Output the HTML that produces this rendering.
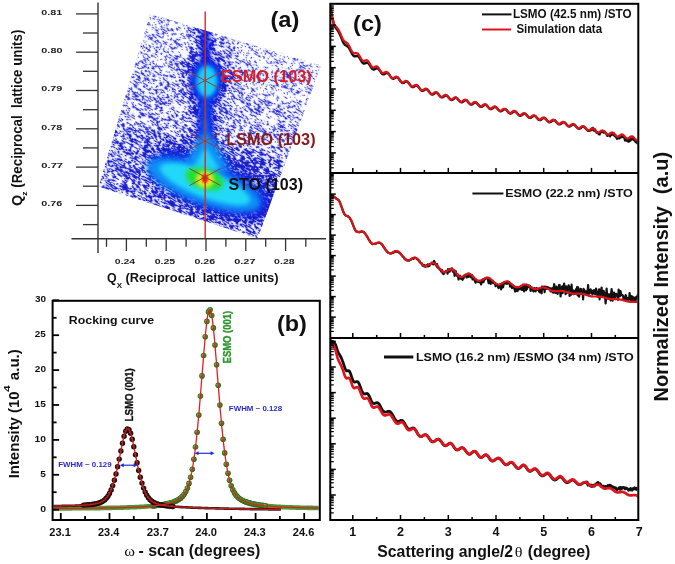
<!DOCTYPE html><html><head><meta charset="utf-8"><style>html,body{margin:0;padding:0;background:#fff;width:675px;height:564px;overflow:hidden}svg{display:block}</style></head><body>
<svg width="675" height="564" viewBox="0 0 675 564" style="will-change:transform">
<defs>
<radialGradient id="gball" cx="0.5" cy="0.5" r="0.5" fx="0.35" fy="0.3"><stop offset="0" stop-color="#a0b060"/><stop offset="0.45" stop-color="#4a9a30"/><stop offset="1" stop-color="#1e6414"/></radialGradient>
<radialGradient id="kball" cx="0.5" cy="0.5" r="0.5" fx="0.35" fy="0.3"><stop offset="0" stop-color="#b04040"/><stop offset="0.45" stop-color="#3a1212"/><stop offset="1" stop-color="#0c0c0c"/></radialGradient>
<clipPath id="clipb"><rect x="53.6" y="302" width="265" height="216.6"/></clipPath>

<clipPath id="clipq"><polygon points="150,13.8 321,65.5 257.6,238.5 98.5,186.5"/></clipPath>
<filter id="tex" filterUnits="userSpaceOnUse" x="-140" y="-140" width="280" height="280" color-interpolation-filters="sRGB">
  <feGaussianBlur in="SourceGraphic" stdDeviation="5" result="dens"/>
  <feTurbulence type="fractalNoise" baseFrequency="0.07 0.45" numOctaves="2" seed="7" result="noise"/>
  <feColorMatrix in="noise" type="matrix" values="1 0 0 0 0  1 0 0 0 0  1 0 0 0 0  0 0 0 0 1" result="n1"/>
  <feComponentTransfer in="n1" result="inv"><feFuncR type="table" tableValues="1 0 1 0 1 0 1 0 1 0 1"/><feFuncG type="table" tableValues="1 0 1 0 1 0 1 0 1 0 1"/><feFuncB type="table" tableValues="1 0 1 0 1 0 1 0 1 0 1"/></feComponentTransfer>
  <feComposite in="dens" in2="inv" operator="arithmetic" k1="0" k2="1" k3="1" k4="-0.5" result="diff"/>
  <feComponentTransfer in="diff" result="thr"><feFuncR type="linear" slope="4" intercept="-1.5"/></feComponentTransfer>
  <feColorMatrix in="thr" type="matrix" values="1 0 0 0 0  0 0 0 0 0  0 0 0 0 0  0 0 0 0 1" result="thr2"/>
  <feColorMatrix in="dens" type="matrix" values="1 0 0 0 0  0 0 0 0 0  0 0 0 0 0  0 0 0 0 1" result="dens2"/>
  <feComposite in="thr2" in2="dens2" operator="arithmetic" k1="0.4" k2="0.8" k3="0" k4="0" result="am"/>
  <feColorMatrix in="am" type="matrix" values="0 0 0 0 0.10  0 0 0 0 0.12  0 0 0 0 0.80  1 0 0 0 0" result="strokes"/>
  <feGaussianBlur in="strokes" stdDeviation="1.0" result="hb"/>
  <feColorMatrix in="hb" type="matrix" values="0 0 0 0 0.45  0 0 0 0 0.48  0 0 0 0 0.92  0 0 0 0.6 0" result="halo"/>
  <feMerge><feMergeNode in="halo"/><feMergeNode in="strokes"/></feMerge>
</filter>
<filter id="bl2" x="-50%" y="-50%" width="200%" height="200%"><feGaussianBlur stdDeviation="2"/></filter>
<filter id="bl3" x="-50%" y="-50%" width="200%" height="200%"><feGaussianBlur stdDeviation="3"/></filter>
<filter id="bl4" x="-50%" y="-50%" width="200%" height="200%"><feGaussianBlur stdDeviation="4"/></filter>
<filter id="bl1" x="-50%" y="-50%" width="200%" height="200%"><feGaussianBlur stdDeviation="1.2"/></filter>
</defs>
<rect width="675" height="564" fill="#fff"/>
<g clip-path="url(#clipq)"><g transform="translate(207.0,125.75) rotate(32.0)"><g filter="url(#tex)"><rect x="-140" y="-140" width="280" height="280" fill="rgb(76,0,0)"/><g transform="rotate(-32.0) translate(-207.0,-125.75)"><polygon points="140,5 200,20 190,60 130,70" fill="rgb(56,0,0)"/><polygon points="240,35 330,60 312,110 240,95" fill="rgb(51,0,0)"/><polygon points="95,128 160,132 230,146 310,165 290,245 95,205" fill="rgb(128,0,0)"/><polygon points="90,140 128,150 130,205 90,200" fill="rgb(107,0,0)"/><ellipse cx="216" cy="182" rx="72" ry="32" transform="rotate(20 216 182)" fill="rgb(204,0,0)"/><polygon points="196,20 214,20 218,100 222,180 188,180 192,100" fill="rgb(153,0,0)"/><ellipse cx="206" cy="80" rx="24" ry="30" fill="rgb(166,0,0)"/></g></g></g><g filter="url(#bl4)"><ellipse cx="211" cy="186" rx="64" ry="22" transform="rotate(22 211 186)" fill="#0818e0" opacity="0.85"/><ellipse cx="205" cy="183" rx="58" ry="19" transform="rotate(18 205 183)" fill="#0850f0" opacity="0.9"/></g><g filter="url(#bl2)"><polygon points="201.5,28 209.5,28 212.5,100 214,170 197,170 198.5,100" fill="#0a1ee0" opacity="0.95"/><ellipse cx="206.5" cy="81" rx="16.5" ry="22" fill="#0a1ee0"/></g><g filter="url(#bl3)"><ellipse cx="204" cy="185" rx="60" ry="18" transform="rotate(20 204 185)" fill="#0890f8"/><ellipse cx="206.5" cy="81" rx="11" ry="16" fill="#0890f8"/><rect x="203" y="95" width="5" height="75" fill="#0870f4" opacity="0.8"/><polygon points="200,135 211,135 230,170 182,170" fill="#0890f8"/></g><g filter="url(#bl2)"><ellipse cx="207" cy="81.5" rx="9.5" ry="15" fill="#18d0f8"/><rect x="204" y="120" width="3" height="45" fill="#14c0f8" opacity="0.5"/><polygon points="203,150 208,150 220,170 192,170" fill="#20d0f8"/><ellipse cx="205" cy="184" rx="48" ry="13" transform="rotate(21 205 184)" fill="#20d8f8"/></g><g filter="url(#bl2)"><ellipse cx="204.5" cy="179" rx="19.5" ry="10.5" transform="rotate(17 204.5 179)" fill="#22e030"/><ellipse cx="205" cy="179.5" rx="7.5" ry="7" fill="#f4f414"/></g><g filter="url(#bl1)"><ellipse cx="205" cy="178.5" rx="3.2" ry="4.6" fill="#f01818"/></g></g><line x1="205.2" y1="11.5" x2="205.2" y2="238" stroke="#c83030" stroke-width="1.4"/><line x1="189.5" y1="72.0" x2="220.5" y2="89.0" stroke="#a03838" stroke-width="1"/><line x1="189.5" y1="89.0" x2="220.5" y2="72.0" stroke="#a03838" stroke-width="1"/><line x1="189.5" y1="132.5" x2="220.5" y2="149.5" stroke="#a03838" stroke-width="1"/><line x1="189.5" y1="149.5" x2="220.5" y2="132.5" stroke="#a03838" stroke-width="1"/><line x1="189.5" y1="168.5" x2="220.5" y2="185.5" stroke="#a03838" stroke-width="1"/><line x1="189.5" y1="185.5" x2="220.5" y2="168.5" stroke="#a03838" stroke-width="1"/><text x="220.94" y="82.00" font-family="Liberation Sans, sans-serif" font-size="16.4" font-weight="bold" fill="#dc1c24" textLength="90.84" lengthAdjust="spacingAndGlyphs" >ESMO (103)</text><text x="226.35" y="144.60" font-family="Liberation Sans, sans-serif" font-size="16.4" font-weight="bold" fill="#8a1a1a" textLength="89.20" lengthAdjust="spacingAndGlyphs" >LSMO (103)</text><text x="228.42" y="189.70" font-family="Liberation Sans, sans-serif" font-size="16.4" font-weight="bold" fill="#111" textLength="74.58" lengthAdjust="spacingAndGlyphs" >STO (103)</text><line x1="98" y1="2.5" x2="98" y2="253" stroke="#333" stroke-width="1.4"/><line x1="71.5" y1="238.7" x2="326" y2="238.7" stroke="#333" stroke-width="1.4"/><line x1="76" y1="13.9" x2="98" y2="13.9" stroke="#333" stroke-width="1.3"/><line x1="83" y1="33.0" x2="98" y2="33.0" stroke="#333" stroke-width="1.3"/><text x="41.37" y="14.70" font-family="Liberation Sans, sans-serif" font-size="6.8" font-weight="bold" fill="#222" textLength="20.91" lengthAdjust="spacingAndGlyphs" >0.81</text><line x1="76" y1="52.2" x2="98" y2="52.2" stroke="#333" stroke-width="1.3"/><line x1="83" y1="71.3" x2="98" y2="71.3" stroke="#333" stroke-width="1.3"/><text x="41.37" y="53.00" font-family="Liberation Sans, sans-serif" font-size="6.8" font-weight="bold" fill="#222" textLength="21.08" lengthAdjust="spacingAndGlyphs" >0.80</text><line x1="76" y1="90.5" x2="98" y2="90.5" stroke="#333" stroke-width="1.3"/><line x1="83" y1="109.7" x2="98" y2="109.7" stroke="#333" stroke-width="1.3"/><text x="41.37" y="91.30" font-family="Liberation Sans, sans-serif" font-size="6.8" font-weight="bold" fill="#222" textLength="21.02" lengthAdjust="spacingAndGlyphs" >0.79</text><line x1="76" y1="128.8" x2="98" y2="128.8" stroke="#333" stroke-width="1.3"/><line x1="83" y1="147.9" x2="98" y2="147.9" stroke="#333" stroke-width="1.3"/><text x="41.37" y="129.60" font-family="Liberation Sans, sans-serif" font-size="6.8" font-weight="bold" fill="#222" textLength="20.97" lengthAdjust="spacingAndGlyphs" >0.78</text><line x1="76" y1="167.1" x2="98" y2="167.1" stroke="#333" stroke-width="1.3"/><line x1="83" y1="186.2" x2="98" y2="186.2" stroke="#333" stroke-width="1.3"/><text x="41.35" y="167.90" font-family="Liberation Sans, sans-serif" font-size="6.8" font-weight="bold" fill="#222" textLength="21.72" lengthAdjust="spacingAndGlyphs" >0.77</text><line x1="76" y1="205.4" x2="98" y2="205.4" stroke="#333" stroke-width="1.3"/><line x1="83" y1="224.6" x2="98" y2="224.6" stroke="#333" stroke-width="1.3"/><text x="41.37" y="206.20" font-family="Liberation Sans, sans-serif" font-size="6.8" font-weight="bold" fill="#222" textLength="21.02" lengthAdjust="spacingAndGlyphs" >0.76</text><line x1="126.4" y1="238.7" x2="126.4" y2="251" stroke="#333" stroke-width="1.3"/><line x1="106.5" y1="238.7" x2="106.5" y2="246.8" stroke="#333" stroke-width="1.3"/><text x="114.88" y="264.30" font-family="Liberation Sans, sans-serif" font-size="7.0" font-weight="bold" fill="#222" textLength="20.28" lengthAdjust="spacingAndGlyphs" >0.24</text><line x1="166.2" y1="238.7" x2="166.2" y2="251" stroke="#333" stroke-width="1.3"/><line x1="146.3" y1="238.7" x2="146.3" y2="246.8" stroke="#333" stroke-width="1.3"/><text x="154.68" y="264.30" font-family="Liberation Sans, sans-serif" font-size="7.0" font-weight="bold" fill="#222" textLength="20.50" lengthAdjust="spacingAndGlyphs" >0.25</text><line x1="206.0" y1="238.7" x2="206.0" y2="251" stroke="#333" stroke-width="1.3"/><line x1="186.1" y1="238.7" x2="186.1" y2="246.8" stroke="#333" stroke-width="1.3"/><text x="194.48" y="264.30" font-family="Liberation Sans, sans-serif" font-size="7.0" font-weight="bold" fill="#222" textLength="20.61" lengthAdjust="spacingAndGlyphs" >0.26</text><line x1="245.8" y1="238.7" x2="245.8" y2="251" stroke="#333" stroke-width="1.3"/><line x1="225.9" y1="238.7" x2="225.9" y2="246.8" stroke="#333" stroke-width="1.3"/><text x="234.26" y="264.30" font-family="Liberation Sans, sans-serif" font-size="7.0" font-weight="bold" fill="#222" textLength="21.29" lengthAdjust="spacingAndGlyphs" >0.27</text><line x1="285.6" y1="238.7" x2="285.6" y2="251" stroke="#333" stroke-width="1.3"/><line x1="265.7" y1="238.7" x2="265.7" y2="246.8" stroke="#333" stroke-width="1.3"/><text x="274.08" y="264.30" font-family="Liberation Sans, sans-serif" font-size="7.0" font-weight="bold" fill="#222" textLength="20.55" lengthAdjust="spacingAndGlyphs" >0.28</text><line x1="305.8" y1="238.7" x2="305.8" y2="246.8" stroke="#333" stroke-width="1.3"/><text x="106.91" y="282.00" font-family="Liberation Sans, sans-serif" font-size="12.5" font-weight="bold" fill="#111" textLength="9.62" lengthAdjust="spacingAndGlyphs" >Q</text><text x="116.82" y="287.60" font-family="Liberation Sans, sans-serif" font-size="7.6" font-weight="bold" fill="#111" textLength="5.27" lengthAdjust="spacingAndGlyphs" >X</text><text x="125.46" y="282.00" font-family="Liberation Sans, sans-serif" font-size="12.5" font-weight="bold" fill="#111" textLength="153.05" lengthAdjust="spacingAndGlyphs" >(Reciprocal&#160; lattice units)</text><text transform="translate(22.00,205.88) rotate(-90)" x="0" y="0" font-family="Liberation Sans, sans-serif" font-size="13.8" font-weight="bold" fill="#111" textLength="11.19" lengthAdjust="spacingAndGlyphs" >Q</text><text transform="translate(27.10,195.85) rotate(-90)" x="0" y="0" font-family="Liberation Sans, sans-serif" font-size="7.2" font-weight="bold" fill="#111" textLength="4.35" lengthAdjust="spacingAndGlyphs" >z</text><text transform="translate(22.00,187.66) rotate(-90)" x="0" y="0" font-family="Liberation Sans, sans-serif" font-size="13.8" font-weight="bold" fill="#111" textLength="157.99" lengthAdjust="spacingAndGlyphs" >(Reciprocal&#160; lattice units)</text><text x="270.42" y="26.60" font-family="Liberation Sans, sans-serif" font-size="22" font-weight="bold" fill="#111" textLength="28.90" lengthAdjust="spacingAndGlyphs" >(a)</text><g clip-path="url(#clipb)"><polyline points="52.7,508.5 53.3,508.5 54.0,508.5 54.7,508.5 55.3,508.5 56.0,508.4 56.6,508.4 57.3,508.4 58.0,508.4 58.6,508.4 59.3,508.4 60.0,508.4 60.6,508.4 61.3,508.4 61.9,508.4 62.6,508.4 63.3,508.4 63.9,508.4 64.6,508.4 65.2,508.4 65.9,508.4 66.6,508.4 67.2,508.4 67.9,508.4 68.5,508.4 69.2,508.4 69.9,508.4 70.5,508.4 71.2,508.4 71.8,508.3 72.5,508.3 73.2,508.3 73.8,508.3 74.5,508.3 75.1,508.3 75.8,508.3 76.5,508.3 77.1,508.3 77.8,508.3 78.4,508.3 79.1,508.3 79.8,508.3 80.4,508.3 81.1,508.3 81.8,508.3 82.4,508.3 83.1,508.3 83.7,508.2 84.4,508.2 85.1,508.2 85.7,508.2 86.4,508.2 87.0,508.2 87.7,508.2 88.4,508.2 89.0,508.2 89.7,508.2 90.3,508.2 91.0,508.2 91.7,508.2 92.3,508.2 93.0,508.1 93.6,508.1 94.3,508.1 95.0,508.1 95.6,508.1 96.3,508.1 96.9,508.1 97.6,508.1 98.3,508.1 98.9,508.1 99.6,508.1 100.2,508.1 100.9,508.0 101.6,508.0 102.2,508.0 102.9,508.0 103.6,508.0 104.2,508.0 104.9,508.0 105.5,508.0 106.2,508.0 106.9,507.9 107.5,507.9 108.2,507.9 108.8,507.9 109.5,507.9 110.2,507.9 110.8,507.9 111.5,507.9 112.1,507.8 112.8,507.8 113.5,507.8 114.1,507.8 114.8,507.8 115.4,507.8 116.1,507.8 116.8,507.7 117.4,507.7 118.1,507.7 118.7,507.7 119.4,507.7 120.1,507.7 120.7,507.6 121.4,507.6 122.0,507.6 122.7,507.6 123.4,507.6 124.0,507.5 124.7,507.5 125.4,507.5 126.0,507.5 126.7,507.5 127.3,507.4 128.0,507.4 128.7,507.4 129.3,507.4 130.0,507.3 130.6,507.3 131.3,507.3 132.0,507.3 132.6,507.2 133.3,507.2 133.9,507.2 134.6,507.2 135.3,507.1 135.9,507.1 136.6,507.1 137.2,507.0 137.9,507.0 138.6,507.0 139.2,506.9 139.9,506.9 140.5,506.9 141.2,506.8 141.9,506.8 142.5,506.7 143.2,506.7 143.9,506.7 144.5,506.6 145.2,506.6 145.8,506.5 146.5,506.5 147.2,506.4 147.8,506.4 148.5,506.3 149.1,506.3 149.8,506.2 150.5,506.2 151.1,506.1 151.8,506.0 152.4,506.0 153.1,505.9 153.8,505.8 154.4,505.8 155.1,505.7 155.7,505.6 156.4,505.5 157.1,505.5 157.7,505.4 158.4,505.3 159.0,505.2 159.7,505.1 160.4,505.0 161.0,504.9 161.7,504.8 162.3,504.7 163.0,504.6 163.7,504.5 164.3,504.3 165.0,504.2 165.7,504.1 166.3,503.9 167.0,503.8 167.6,503.6 168.3,503.5 169.0,503.3 169.6,503.1 170.3,503.0 170.9,502.8 171.6,502.6 172.3,502.4 172.9,502.1 173.6,501.9 174.2,501.7 174.9,501.4 175.6,501.1 176.2,500.8 176.9,500.5 177.5,500.1 178.2,499.8 178.9,499.4 179.5,498.9 180.2,498.4 180.8,497.9 181.5,497.3 182.2,496.7 182.8,496.0 183.5,495.2 184.1,494.3" fill="none" stroke="#4a9a38" stroke-width="4.6" stroke-linejoin="round" stroke-linecap="round" /><polyline points="236.1,495.3 236.5,495.8 236.9,496.3 237.4,496.7 237.8,497.1 238.2,497.5 238.6,497.9 239.1,498.2 239.5,498.6 239.9,498.9 240.3,499.2 240.7,499.4 241.2,499.7 241.6,499.9 242.0,500.2 242.4,500.4 242.9,500.6 243.3,500.8 243.7,501.0 244.1,501.2 244.6,501.4 245.0,501.6 245.4,501.7 245.8,501.9 246.3,502.0 246.7,502.2 247.1,502.3 247.5,502.5 248.0,502.6 248.4,502.7 248.8,502.8 249.2,503.0 249.7,503.1 250.1,503.2 250.5,503.3 250.9,503.4 251.4,503.5 251.8,503.6 252.2,503.7 252.6,503.8 253.0,503.9 253.5,504.0 253.9,504.1 254.3,504.2 254.7,504.3 255.2,504.3 255.6,504.4 256.0,504.5 256.4,504.6 256.9,504.6 257.3,504.7 257.7,504.8 258.1,504.9 258.6,504.9 259.0,505.0 259.4,505.0 259.8,505.1 260.3,505.2 260.7,505.2 261.1,505.3 261.5,505.3 262.0,505.4 262.4,505.5 262.8,505.5 263.2,505.6 263.7,505.6 264.1,505.7 264.5,505.7 264.9,505.7 265.3,505.8 265.8,505.8 266.2,505.9 266.6,505.9 267.0,506.0 267.5,506.0 267.9,506.0 268.3,506.1 268.7,506.1 269.2,506.2 269.6,506.2 270.0,506.2 270.4,506.3 270.9,506.3 271.3,506.3 271.7,506.4 272.1,506.4 272.6,506.4 273.0,506.5 273.4,506.5 273.8,506.5 274.3,506.6 274.7,506.6 275.1,506.6 275.5,506.6 275.9,506.7 276.4,506.7 276.8,506.7 277.2,506.8 277.6,506.8 278.1,506.8 278.5,506.8 278.9,506.9 279.3,506.9 279.8,506.9 280.2,506.9 280.6,506.9 281.0,507.0 281.5,507.0 281.9,507.0 282.3,507.0 282.7,507.1 283.2,507.1 283.6,507.1 284.0,507.1 284.4,507.1 284.9,507.2 285.3,507.2 285.7,507.2 286.1,507.2 286.6,507.2 287.0,507.2 287.4,507.3 287.8,507.3 288.2,507.3 288.7,507.3 289.1,507.3 289.5,507.3 289.9,507.4 290.4,507.4 290.8,507.4 291.2,507.4 291.6,507.4 292.1,507.4 292.5,507.4 292.9,507.5 293.3,507.5 293.8,507.5 294.2,507.5 294.6,507.5 295.0,507.5 295.5,507.5 295.9,507.6 296.3,507.6 296.7,507.6 297.2,507.6 297.6,507.6 298.0,507.6 298.4,507.6 298.9,507.6 299.3,507.7 299.7,507.7 300.1,507.7 300.5,507.7 301.0,507.7 301.4,507.7 301.8,507.7 302.2,507.7 302.7,507.7 303.1,507.7 303.5,507.8 303.9,507.8 304.4,507.8 304.8,507.8 305.2,507.8 305.6,507.8 306.1,507.8 306.5,507.8 306.9,507.8 307.3,507.8 307.8,507.9 308.2,507.9 308.6,507.9 309.0,507.9 309.5,507.9 309.9,507.9 310.3,507.9 310.7,507.9 311.1,507.9 311.6,507.9 312.0,507.9 312.4,507.9 312.8,507.9 313.3,508.0 313.7,508.0 314.1,508.0 314.5,508.0 315.0,508.0 315.4,508.0 315.8,508.0 316.2,508.0 316.7,508.0 317.1,508.0 317.5,508.0 317.9,508.0 318.4,508.0 318.8,508.0 319.2,508.0 319.6,508.1 320.1,508.1 320.5,508.1" fill="none" stroke="#4a9a38" stroke-width="4.6" stroke-linejoin="round" stroke-linecap="round" /><circle cx="153.3" cy="505.9" r="2.8" fill="url(#gball)"/><circle cx="154.9" cy="505.7" r="2.8" fill="url(#gball)"/><circle cx="156.6" cy="505.5" r="2.8" fill="url(#gball)"/><circle cx="158.2" cy="505.3" r="2.8" fill="url(#gball)"/><circle cx="159.8" cy="505.1" r="2.8" fill="url(#gball)"/><circle cx="161.4" cy="504.8" r="2.8" fill="url(#gball)"/><circle cx="163.0" cy="504.6" r="2.8" fill="url(#gball)"/><circle cx="164.7" cy="504.3" r="2.8" fill="url(#gball)"/><circle cx="166.3" cy="503.9" r="2.8" fill="url(#gball)"/><circle cx="167.9" cy="503.6" r="2.8" fill="url(#gball)"/><circle cx="169.5" cy="503.2" r="2.8" fill="url(#gball)"/><circle cx="171.2" cy="502.7" r="2.8" fill="url(#gball)"/><circle cx="172.8" cy="502.2" r="2.8" fill="url(#gball)"/><circle cx="174.4" cy="501.6" r="2.8" fill="url(#gball)"/><circle cx="176.0" cy="500.9" r="2.8" fill="url(#gball)"/><circle cx="177.7" cy="500.1" r="2.8" fill="url(#gball)"/><circle cx="179.3" cy="499.1" r="2.8" fill="url(#gball)"/><circle cx="180.9" cy="497.9" r="2.8" fill="url(#gball)"/><circle cx="182.5" cy="496.3" r="2.8" fill="url(#gball)"/><circle cx="184.1" cy="494.3" r="2.8" fill="url(#gball)"/><circle cx="185.8" cy="491.6" r="2.8" fill="url(#gball)"/><circle cx="187.4" cy="488.1" r="2.8" fill="url(#gball)"/><circle cx="189.0" cy="483.4" r="2.8" fill="url(#gball)"/><circle cx="190.6" cy="477.3" r="2.8" fill="url(#gball)"/><circle cx="192.3" cy="469.3" r="2.8" fill="url(#gball)"/><circle cx="193.9" cy="459.3" r="2.8" fill="url(#gball)"/><circle cx="195.5" cy="447.0" r="2.8" fill="url(#gball)"/><circle cx="197.1" cy="432.2" r="2.8" fill="url(#gball)"/><circle cx="198.8" cy="415.1" r="2.8" fill="url(#gball)"/><circle cx="200.4" cy="396.1" r="2.8" fill="url(#gball)"/><circle cx="202.0" cy="375.9" r="2.8" fill="url(#gball)"/><circle cx="203.6" cy="355.5" r="2.8" fill="url(#gball)"/><circle cx="205.2" cy="336.7" r="2.8" fill="url(#gball)"/><circle cx="206.9" cy="321.4" r="2.8" fill="url(#gball)"/><circle cx="208.5" cy="311.9" r="2.8" fill="url(#gball)"/><circle cx="210.1" cy="309.8" r="2.8" fill="url(#gball)"/><circle cx="211.7" cy="315.5" r="2.8" fill="url(#gball)"/><circle cx="213.4" cy="327.9" r="2.8" fill="url(#gball)"/><circle cx="215.0" cy="345.1" r="2.8" fill="url(#gball)"/><circle cx="216.6" cy="364.8" r="2.8" fill="url(#gball)"/><circle cx="218.2" cy="385.3" r="2.8" fill="url(#gball)"/><circle cx="219.9" cy="405.1" r="2.8" fill="url(#gball)"/><circle cx="221.5" cy="423.2" r="2.8" fill="url(#gball)"/><circle cx="223.1" cy="439.3" r="2.8" fill="url(#gball)"/><circle cx="224.7" cy="452.9" r="2.8" fill="url(#gball)"/><circle cx="226.3" cy="464.2" r="2.8" fill="url(#gball)"/><circle cx="228.0" cy="473.2" r="2.8" fill="url(#gball)"/><circle cx="229.6" cy="480.3" r="2.8" fill="url(#gball)"/><circle cx="231.2" cy="485.7" r="2.8" fill="url(#gball)"/><circle cx="232.8" cy="489.8" r="2.8" fill="url(#gball)"/><circle cx="234.5" cy="492.9" r="2.8" fill="url(#gball)"/><circle cx="236.1" cy="495.3" r="2.8" fill="url(#gball)"/><circle cx="237.7" cy="497.1" r="2.8" fill="url(#gball)"/><circle cx="239.3" cy="498.5" r="2.8" fill="url(#gball)"/><circle cx="241.0" cy="499.6" r="2.8" fill="url(#gball)"/><circle cx="242.6" cy="500.5" r="2.8" fill="url(#gball)"/><circle cx="244.2" cy="501.2" r="2.8" fill="url(#gball)"/><circle cx="245.8" cy="501.9" r="2.8" fill="url(#gball)"/><circle cx="247.4" cy="502.4" r="2.8" fill="url(#gball)"/><circle cx="249.1" cy="502.9" r="2.8" fill="url(#gball)"/><circle cx="250.7" cy="503.4" r="2.8" fill="url(#gball)"/><circle cx="252.3" cy="503.7" r="2.8" fill="url(#gball)"/><circle cx="253.9" cy="504.1" r="2.8" fill="url(#gball)"/><circle cx="255.6" cy="504.4" r="2.8" fill="url(#gball)"/><circle cx="257.2" cy="504.7" r="2.8" fill="url(#gball)"/><circle cx="258.8" cy="505.0" r="2.8" fill="url(#gball)"/><circle cx="260.4" cy="505.2" r="2.8" fill="url(#gball)"/><circle cx="262.1" cy="505.4" r="2.8" fill="url(#gball)"/><circle cx="263.7" cy="505.6" r="2.8" fill="url(#gball)"/><circle cx="265.3" cy="505.8" r="2.8" fill="url(#gball)"/><polyline points="52.7,506.0 53.0,506.0 53.3,506.0 53.5,506.0 53.8,506.0 54.1,506.0 54.4,506.0 54.7,506.0 55.0,506.0 55.3,506.0 55.5,506.0 55.8,506.0 56.1,506.0 56.4,506.0 56.7,506.0 57.0,506.0 57.3,506.0 57.5,506.0 57.8,506.0 58.1,506.0 58.4,506.0 58.7,506.0 59.0,506.0 59.3,506.0 59.5,506.0 59.8,506.0 60.1,506.0 60.4,506.0 60.7,506.0 61.0,506.0 61.2,506.0 61.5,506.0 61.8,505.9 62.1,505.9 62.4,505.9 62.7,505.9 63.0,505.9 63.2,505.9 63.5,505.9 63.8,505.9 64.1,505.9 64.4,505.9 64.7,505.9 65.0,505.9 65.2,505.9 65.5,505.9 65.8,505.9 66.1,505.9 66.4,505.9 66.7,505.9 67.0,505.9 67.2,505.9 67.5,505.9 67.8,505.8 68.1,505.8 68.4,505.8 68.7,505.8 69.0,505.8 69.2,505.8 69.5,505.8 69.8,505.8 70.1,505.8 70.4,505.8 70.7,505.8 71.0,505.8 71.2,505.8 71.5,505.8 71.8,505.8 72.1,505.7 72.4,505.7 72.7,505.7 73.0,505.7 73.2,505.7 73.5,505.7 73.8,505.7 74.1,505.7 74.4,505.7 74.7,505.7 75.0,505.7 75.2,505.6 75.5,505.6 75.8,505.6 76.1,505.6 76.4,505.6 76.7,505.6 76.9,505.6 77.2,505.6 77.5,505.6 77.8,505.5 78.1,505.5 78.4,505.5 78.7,505.5 78.9,505.5 79.2,505.5 79.5,505.5 79.8,505.4 80.1,505.4 80.4,505.4 80.7,505.4 80.9,505.4 81.2,505.4 81.5,505.4 81.8,505.3 82.1,505.3 82.4,505.3 82.7,505.3 82.9,505.3 83.2,505.2 83.5,505.2 83.8,505.2 84.1,505.2 84.4,505.2 84.7,505.1 84.9,505.1 85.2,505.1 85.5,505.1 85.8,505.1 86.1,505.0 86.4,505.0 86.7,505.0 86.9,505.0 87.2,504.9 87.5,504.9 87.8,504.9 88.1,504.9 88.4,504.8 88.7,504.8 88.9,504.8 89.2,504.7 89.5,504.7 89.8,504.7 90.1,504.6 90.4,504.6 90.7,504.6 90.9,504.5 91.2,504.5 91.5,504.5 91.8,504.4 92.1,504.4 92.4,504.4 92.6,504.3 92.9,504.3 93.2,504.2 93.5,504.2 93.8,504.1 94.1,504.1 94.4,504.0 94.6,504.0 94.9,503.9 95.2,503.9 95.5,503.8 95.8,503.8 96.1,503.7 96.4,503.6 96.6,503.6 96.9,503.5 97.2,503.4 97.5,503.4 97.8,503.3 98.1,503.2 98.4,503.1 98.6,503.1 98.9,503.0 99.2,502.9 99.5,502.8 99.8,502.7 100.1,502.6 100.4,502.4 100.6,502.3 100.9,502.2 101.2,502.1 101.5,501.9 101.8,501.8 102.1,501.7 102.4,501.5 102.6,501.3 102.9,501.2 103.2,501.0 103.5,500.8 103.8,500.6 104.1,500.4 104.4,500.1 104.6,499.9 104.9,499.7 105.2,499.4 105.5,499.1 105.8,498.8 106.1,498.5 106.4,498.2 106.6,497.9 106.9,497.5 107.2,497.2 107.5,496.8 107.8,496.4 108.1,495.9 108.3,495.5 108.6,495.0 108.9,494.5 109.2,494.0 109.5,493.5" fill="none" stroke="#2a1818" stroke-width="2.6" stroke-linejoin="round" stroke-linecap="round" /><polyline points="146.8,495.3 147.5,496.4 148.2,497.4 148.8,498.3 149.5,499.1 150.2,499.8 150.8,500.4 151.5,501.0 152.2,501.5 152.8,501.9 153.5,502.3 154.2,502.7 154.8,503.0 155.5,503.3 156.2,503.6 156.9,503.8 157.5,504.0 158.2,504.2 158.9,504.4 159.5,504.6 160.2,504.7 160.9,504.9 161.5,505.0 162.2,505.1 162.9,505.2 163.5,505.3 164.2,505.5 164.9,505.6 165.5,505.6 166.2,505.7 166.9,505.8 167.6,505.9 168.2,506.0 168.9,506.1 169.6,506.1 170.2,506.2 170.9,506.3 171.6,506.3 172.2,506.4 172.9,506.5 173.6,506.5 174.2,506.6 174.9,506.6 175.6,506.7 176.2,506.7 176.9,506.8 177.6,506.8 178.3,506.9 178.9,506.9 179.6,507.0 180.3,507.0 180.9,507.1 181.6,507.1 182.3,507.1 182.9,507.2 183.6,507.2 184.3,507.3 184.9,507.3 185.6,507.3 186.3,507.4 186.9,507.4 187.6,507.4 188.3,507.5 189.0,507.5 189.6,507.5 190.3,507.5 191.0,507.6 191.6,507.6 192.3,507.6 193.0,507.7 193.6,507.7 194.3,507.7 195.0,507.7 195.6,507.8 196.3,507.8 197.0,507.8 197.6,507.8 198.3,507.9 199.0,507.9 199.7,507.9 200.3,507.9 201.0,507.9 201.7,508.0 202.3,508.0 203.0,508.0 203.7,508.0 204.3,508.0 205.0,508.1 205.7,508.1 206.3,508.1 207.0,508.1 207.7,508.1 208.3,508.2 209.0,508.2 209.7,508.2 210.4,508.2 211.0,508.2 211.7,508.3 212.4,508.3 213.0,508.3 213.7,508.3 214.4,508.3 215.0,508.3 215.7,508.4 216.4,508.4 217.0,508.4 217.7,508.4 218.4,508.4 219.0,508.4 219.7,508.5 220.4,508.5 221.1,508.5 221.7,508.5 222.4,508.5 223.1,508.5 223.7,508.5 224.4,508.6 225.1,508.6 225.7,508.6 226.4,508.6 227.1,508.6 227.7,508.6 228.4,508.6 229.1,508.7 229.7,508.7 230.4,508.7 231.1,508.7 231.8,508.7 232.4,508.7 233.1,508.7 233.8,508.7 234.4,508.8 235.1,508.8 235.8,508.8 236.4,508.8 237.1,508.8 237.8,508.8 238.4,508.8 239.1,508.8 239.8,508.9 240.4,508.9 241.1,508.9 241.8,508.9 242.5,508.9 243.1,508.9 243.8,508.9 244.5,508.9 245.1,509.0 245.8,509.0 246.5,509.0 247.1,509.0 247.8,509.0 248.5,509.0 249.1,509.0 249.8,509.0 250.5,509.1 251.1,509.1 251.8,509.1 252.5,509.1 253.2,509.1 253.8,509.1 254.5,509.1 255.2,509.1 255.8,509.1 256.5,509.2 257.2,509.2 257.8,509.2 258.5,509.2 259.2,509.2 259.8,509.2 260.5,509.2 261.2,509.2 261.8,509.2 262.5,509.3 263.2,509.3 263.9,509.3 264.5,509.3 265.2,509.3 265.9,509.3 266.5,509.3 267.2,509.3 267.9,509.3 268.5,509.4 269.2,509.4 269.9,509.4 270.5,509.4 271.2,509.4 271.9,509.4 272.5,509.4 273.2,509.4 273.9,509.4 274.6,509.4 275.2,509.5 275.9,509.5 276.6,509.5 277.2,509.5 277.9,509.5 278.6,509.5 279.2,509.5 279.9,509.5" fill="none" stroke="#2a1818" stroke-width="2.6" stroke-linejoin="round" stroke-linecap="round" /><circle cx="83.5" cy="505.2" r="2.7" fill="url(#kball)"/><circle cx="85.1" cy="505.1" r="2.7" fill="url(#kball)"/><circle cx="86.8" cy="505.0" r="2.7" fill="url(#kball)"/><circle cx="88.4" cy="504.8" r="2.7" fill="url(#kball)"/><circle cx="90.0" cy="504.7" r="2.7" fill="url(#kball)"/><circle cx="91.6" cy="504.5" r="2.7" fill="url(#kball)"/><circle cx="93.3" cy="504.2" r="2.7" fill="url(#kball)"/><circle cx="94.9" cy="503.9" r="2.7" fill="url(#kball)"/><circle cx="96.5" cy="503.6" r="2.7" fill="url(#kball)"/><circle cx="98.1" cy="503.2" r="2.7" fill="url(#kball)"/><circle cx="99.8" cy="502.7" r="2.7" fill="url(#kball)"/><circle cx="101.4" cy="502.0" r="2.7" fill="url(#kball)"/><circle cx="103.0" cy="501.1" r="2.7" fill="url(#kball)"/><circle cx="104.6" cy="499.9" r="2.7" fill="url(#kball)"/><circle cx="106.2" cy="498.3" r="2.7" fill="url(#kball)"/><circle cx="107.9" cy="496.2" r="2.7" fill="url(#kball)"/><circle cx="109.5" cy="493.5" r="2.7" fill="url(#kball)"/><circle cx="111.1" cy="490.0" r="2.7" fill="url(#kball)"/><circle cx="112.7" cy="485.6" r="2.7" fill="url(#kball)"/><circle cx="114.4" cy="480.3" r="2.7" fill="url(#kball)"/><circle cx="116.0" cy="474.0" r="2.7" fill="url(#kball)"/><circle cx="117.6" cy="466.8" r="2.7" fill="url(#kball)"/><circle cx="119.2" cy="459.1" r="2.7" fill="url(#kball)"/><circle cx="120.9" cy="451.0" r="2.7" fill="url(#kball)"/><circle cx="122.5" cy="443.2" r="2.7" fill="url(#kball)"/><circle cx="124.1" cy="436.3" r="2.7" fill="url(#kball)"/><circle cx="125.7" cy="431.3" r="2.7" fill="url(#kball)"/><circle cx="127.3" cy="428.9" r="2.7" fill="url(#kball)"/><circle cx="129.0" cy="429.6" r="2.7" fill="url(#kball)"/><circle cx="130.6" cy="433.3" r="2.7" fill="url(#kball)"/><circle cx="132.2" cy="439.3" r="2.7" fill="url(#kball)"/><circle cx="133.8" cy="446.7" r="2.7" fill="url(#kball)"/><circle cx="135.5" cy="454.7" r="2.7" fill="url(#kball)"/><circle cx="137.1" cy="462.8" r="2.7" fill="url(#kball)"/><circle cx="138.7" cy="470.4" r="2.7" fill="url(#kball)"/><circle cx="140.3" cy="477.2" r="2.7" fill="url(#kball)"/><circle cx="142.0" cy="483.1" r="2.7" fill="url(#kball)"/><circle cx="143.6" cy="488.1" r="2.7" fill="url(#kball)"/><circle cx="145.2" cy="492.1" r="2.7" fill="url(#kball)"/><circle cx="146.8" cy="495.3" r="2.7" fill="url(#kball)"/><circle cx="148.4" cy="497.8" r="2.7" fill="url(#kball)"/><circle cx="150.1" cy="499.7" r="2.7" fill="url(#kball)"/><circle cx="151.7" cy="501.1" r="2.7" fill="url(#kball)"/><circle cx="153.3" cy="502.2" r="2.7" fill="url(#kball)"/><circle cx="154.9" cy="503.0" r="2.7" fill="url(#kball)"/><circle cx="156.6" cy="503.7" r="2.7" fill="url(#kball)"/><circle cx="158.2" cy="504.2" r="2.7" fill="url(#kball)"/><circle cx="159.8" cy="504.6" r="2.7" fill="url(#kball)"/><circle cx="161.4" cy="505.0" r="2.7" fill="url(#kball)"/><circle cx="163.0" cy="505.3" r="2.7" fill="url(#kball)"/><circle cx="164.7" cy="505.5" r="2.7" fill="url(#kball)"/><circle cx="166.3" cy="505.8" r="2.7" fill="url(#kball)"/><circle cx="167.9" cy="506.0" r="2.7" fill="url(#kball)"/><circle cx="169.5" cy="506.1" r="2.7" fill="url(#kball)"/><circle cx="171.2" cy="506.3" r="2.7" fill="url(#kball)"/><circle cx="172.8" cy="506.5" r="2.7" fill="url(#kball)"/><polyline points="52.7,508.5 53.2,508.5 53.8,508.5 54.3,508.5 54.8,508.5 55.4,508.5 55.9,508.4 56.4,508.4 57.0,508.4 57.5,508.4 58.1,508.4 58.6,508.4 59.1,508.4 59.7,508.4 60.2,508.4 60.7,508.4 61.3,508.4 61.8,508.4 62.3,508.4 62.9,508.4 63.4,508.4 64.0,508.4 64.5,508.4 65.0,508.4 65.6,508.4 66.1,508.4 66.6,508.4 67.2,508.4 67.7,508.4 68.2,508.4 68.8,508.4 69.3,508.4 69.9,508.4 70.4,508.4 70.9,508.4 71.5,508.4 72.0,508.3 72.5,508.3 73.1,508.3 73.6,508.3 74.2,508.3 74.7,508.3 75.2,508.3 75.8,508.3 76.3,508.3 76.8,508.3 77.4,508.3 77.9,508.3 78.4,508.3 79.0,508.3 79.5,508.3 80.1,508.3 80.6,508.3 81.1,508.3 81.7,508.3 82.2,508.3 82.7,508.3 83.3,508.3 83.8,508.2 84.3,508.2 84.9,508.2 85.4,508.2 86.0,508.2 86.5,508.2 87.0,508.2 87.6,508.2 88.1,508.2 88.6,508.2 89.2,508.2 89.7,508.2 90.3,508.2 90.8,508.2 91.3,508.2 91.9,508.2 92.4,508.2 92.9,508.1 93.5,508.1 94.0,508.1 94.5,508.1 95.1,508.1 95.6,508.1 96.2,508.1 96.7,508.1 97.2,508.1 97.8,508.1 98.3,508.1 98.8,508.1 99.4,508.1 99.9,508.1 100.4,508.0 101.0,508.0 101.5,508.0 102.1,508.0 102.6,508.0 103.1,508.0 103.7,508.0 104.2,508.0 104.7,508.0 105.3,508.0 105.8,508.0 106.4,508.0 106.9,507.9 107.4,507.9 108.0,507.9 108.5,507.9 109.0,507.9 109.6,507.9 110.1,507.9 110.6,507.9 111.2,507.9 111.7,507.9 112.3,507.8 112.8,507.8 113.3,507.8 113.9,507.8 114.4,507.8 114.9,507.8 115.5,507.8 116.0,507.8 116.5,507.7 117.1,507.7 117.6,507.7 118.2,507.7 118.7,507.7 119.2,507.7 119.8,507.7 120.3,507.7 120.8,507.6 121.4,507.6 121.9,507.6 122.5,507.6 123.0,507.6 123.5,507.6 124.1,507.5 124.6,507.5 125.1,507.5 125.7,507.5 126.2,507.5 126.7,507.5 127.3,507.4 127.8,507.4 128.4,507.4 128.9,507.4 129.4,507.4 130.0,507.3 130.5,507.3 131.0,507.3 131.6,507.3 132.1,507.3 132.6,507.2 133.2,507.2 133.7,507.2 134.3,507.2 134.8,507.1 135.3,507.1 135.9,507.1 136.4,507.1 136.9,507.0 137.5,507.0 138.0,507.0 138.6,507.0 139.1,506.9 139.6,506.9 140.2,506.9 140.7,506.8 141.2,506.8 141.8,506.8 142.3,506.8 142.8,506.7 143.4,506.7 143.9,506.7 144.5,506.6 145.0,506.6 145.5,506.5 146.1,506.5 146.6,506.5 147.1,506.4 147.7,506.4 148.2,506.3 148.7,506.3 149.3,506.3 149.8,506.2 150.4,506.2 150.9,506.1 151.4,506.1 152.0,506.0 152.5,506.0 153.0,505.9 153.6,505.9 154.1,505.8 154.7,505.7 155.2,505.7 155.7,505.6 156.3,505.6 156.8,505.5 157.3,505.4 157.9,505.4 158.4,505.3 158.9,505.2 159.5,505.1 160.0,505.1 160.6,505.0 161.1,504.9 161.6,504.8 162.2,504.7 162.7,504.6 163.2,504.5 163.8,504.4 164.3,504.3 164.8,504.2 165.4,504.1 165.9,504.0 166.5,503.9 167.0,503.8 167.5,503.7 168.1,503.5 168.6,503.4 169.1,503.3 169.7,503.1 170.2,503.0 170.8,502.8 171.3,502.7 171.8,502.5 172.4,502.3 172.9,502.1 173.4,502.0 174.0,501.8 174.5,501.5 175.0,501.3 175.6,501.1 176.1,500.9 176.7,500.6 177.2,500.3 177.7,500.0 178.3,499.7 178.8,499.4 179.3,499.0 179.9,498.7 180.4,498.3 180.9,497.8 181.5,497.3 182.0,496.8 182.6,496.3 183.1,495.6 183.6,495.0 184.2,494.2 184.7,493.4 185.2,492.6 185.8,491.6 186.3,490.5 186.9,489.4 187.4,488.1 187.9,486.7 188.5,485.1 189.0,483.5 189.5,481.6 190.1,479.6 190.6,477.4 191.1,475.0 191.7,472.4 192.2,469.6 192.8,466.5 193.3,463.2 193.8,459.7 194.4,455.9 194.9,451.9 195.4,447.5 196.0,443.0 196.5,438.1 197.0,433.0 197.6,427.7 198.1,422.1 198.7,416.2 199.2,410.1 199.7,403.9 200.3,397.5 200.8,390.9 201.3,384.2 201.9,377.4 202.4,370.6 203.0,363.9 203.5,357.2 204.0,350.7 204.6,344.4 205.1,338.3 205.6,332.7 206.2,327.4 206.7,322.7 207.2,318.7 207.8,315.3 208.3,312.6 208.9,310.8 209.4,309.8 209.9,309.6 210.5,310.4 211.0,312.0 211.5,314.4 212.1,317.5 212.6,321.4 213.1,325.9 213.7,331.0 214.2,336.5 214.8,342.4 215.3,348.7 215.8,355.2 216.4,361.8 216.9,368.5 217.4,375.3 218.0,382.1 218.5,388.8 219.1,395.4 219.6,401.9 220.1,408.2 220.7,414.3 221.2,420.3 221.7,425.9 222.3,431.4 222.8,436.6 223.3,441.5 223.9,446.1 224.4,450.5 225.0,454.7 225.5,458.5 226.0,462.2 226.6,465.5 227.1,468.6 227.6,471.5 228.2,474.2 228.7,476.7 229.2,478.9 229.8,481.0 230.3,482.9 230.9,484.6 231.4,486.2 231.9,487.7 232.5,489.0 233.0,490.2 233.5,491.3 234.1,492.3 234.6,493.2 235.2,494.0 235.7,494.8 236.2,495.4 236.8,496.1 237.3,496.7 237.8,497.2 238.4,497.7 238.9,498.1 239.4,498.5 240.0,498.9 240.5,499.3 241.1,499.6 241.6,499.9 242.1,500.2 242.7,500.5 243.2,500.8 243.7,501.0 244.3,501.3 244.8,501.5 245.3,501.7 245.9,501.9 246.4,502.1 247.0,502.3 247.5,502.4 248.0,502.6 248.6,502.8 249.1,502.9 249.6,503.1 250.2,503.2 250.7,503.4 251.3,503.5 251.8,503.6 252.3,503.8 252.9,503.9 253.4,504.0 253.9,504.1 254.5,504.2 255.0,504.3 255.5,504.4 256.1,504.5 256.6,504.6 257.2,504.7 257.7,504.8 258.2,504.9 258.8,505.0 259.3,505.0 259.8,505.1 260.4,505.2 260.9,505.3 261.4,505.3 262.0,505.4 262.5,505.5 263.1,505.5 263.6,505.6 264.1,505.7 264.7,505.7 265.2,505.8 265.7,505.8 266.3,505.9 266.8,505.9 267.4,506.0 267.9,506.0 268.4,506.1 269.0,506.1 269.5,506.2 270.0,506.2 270.6,506.3 271.1,506.3 271.6,506.4 272.2,506.4 272.7,506.5 273.3,506.5 273.8,506.5 274.3,506.6 274.9,506.6 275.4,506.6 275.9,506.7 276.5,506.7 277.0,506.7 277.5,506.8 278.1,506.8 278.6,506.8 279.2,506.9 279.7,506.9 280.2,506.9 280.8,507.0 281.3,507.0 281.8,507.0 282.4,507.0 282.9,507.1 283.5,507.1 284.0,507.1 284.5,507.1 285.1,507.2 285.6,507.2 286.1,507.2 286.7,507.2 287.2,507.3 287.7,507.3 288.3,507.3 288.8,507.3 289.4,507.3 289.9,507.4 290.4,507.4 291.0,507.4 291.5,507.4 292.0,507.4 292.6,507.5 293.1,507.5 293.6,507.5 294.2,507.5 294.7,507.5 295.3,507.5 295.8,507.6 296.3,507.6 296.9,507.6 297.4,507.6 297.9,507.6 298.5,507.6 299.0,507.6 299.6,507.7 300.1,507.7 300.6,507.7 301.2,507.7 301.7,507.7 302.2,507.7 302.8,507.7 303.3,507.8 303.8,507.8 304.4,507.8 304.9,507.8 305.5,507.8 306.0,507.8 306.5,507.8 307.1,507.8 307.6,507.8 308.1,507.9 308.7,507.9 309.2,507.9 309.7,507.9 310.3,507.9 310.8,507.9 311.4,507.9 311.9,507.9 312.4,507.9 313.0,507.9 313.5,508.0 314.0,508.0 314.6,508.0 315.1,508.0 315.7,508.0 316.2,508.0 316.7,508.0 317.3,508.0 317.8,508.0 318.3,508.0 318.9,508.0 319.4,508.1 319.9,508.1 320.5,508.1" fill="none" stroke="#e02020" stroke-width="1.3" stroke-linejoin="round" stroke-linecap="round" /><polyline points="52.7,506.0 53.3,506.0 53.8,506.0 54.4,506.0 55.0,506.0 55.5,506.0 56.1,506.0 56.7,506.0 57.2,506.0 57.8,506.0 58.4,506.0 58.9,506.0 59.5,506.0 60.1,506.0 60.7,506.0 61.2,506.0 61.8,505.9 62.4,505.9 62.9,505.9 63.5,505.9 64.1,505.9 64.6,505.9 65.2,505.9 65.8,505.9 66.4,505.9 66.9,505.9 67.5,505.9 68.1,505.8 68.6,505.8 69.2,505.8 69.8,505.8 70.3,505.8 70.9,505.8 71.5,505.8 72.0,505.7 72.6,505.7 73.2,505.7 73.8,505.7 74.3,505.7 74.9,505.7 75.5,505.6 76.0,505.6 76.6,505.6 77.2,505.6 77.7,505.5 78.3,505.5 78.9,505.5 79.5,505.5 80.0,505.4 80.6,505.4 81.2,505.4 81.7,505.3 82.3,505.3 82.9,505.3 83.4,505.2 84.0,505.2 84.6,505.2 85.1,505.1 85.7,505.1 86.3,505.0 86.9,505.0 87.4,504.9 88.0,504.9 88.6,504.8 89.1,504.8 89.7,504.7 90.3,504.6 90.8,504.6 91.4,504.5 92.0,504.4 92.5,504.3 93.1,504.2 93.7,504.2 94.3,504.1 94.8,504.0 95.4,503.9 96.0,503.7 96.5,503.6 97.1,503.5 97.7,503.3 98.2,503.2 98.8,503.0 99.4,502.8 100.0,502.6 100.5,502.4 101.1,502.1 101.7,501.9 102.2,501.6 102.8,501.2 103.4,500.9 103.9,500.5 104.5,500.0 105.1,499.5 105.6,499.0 106.2,498.4 106.8,497.7 107.4,497.0 107.9,496.2 108.5,495.3 109.1,494.3 109.6,493.2 110.2,492.1 110.8,490.8 111.3,489.4 111.9,487.9 112.5,486.4 113.0,484.6 113.6,482.8 114.2,480.9 114.8,478.8 115.3,476.6 115.9,474.3 116.5,471.9 117.0,469.4 117.6,466.8 118.2,464.2 118.7,461.4 119.3,458.6 119.9,455.8 120.5,453.0 121.0,450.1 121.6,447.3 122.2,444.6 122.7,442.0 123.3,439.5 123.9,437.2 124.4,435.1 125.0,433.2 125.6,431.6 126.1,430.4 126.7,429.5 127.3,429.0 127.9,428.8 128.4,429.1 129.0,429.7 129.6,430.7 130.1,432.0 130.7,433.6 131.3,435.6 131.8,437.7 132.4,440.1 133.0,442.7 133.6,445.3 134.1,448.1 134.7,450.9 135.3,453.7 135.8,456.6 136.4,459.4 137.0,462.2 137.5,465.0 138.1,467.7 138.7,470.2 139.2,472.7 139.8,475.1 140.4,477.4 141.0,479.6 141.5,481.6 142.1,483.6 142.7,485.4 143.2,487.1 143.8,488.7 144.4,490.2 144.9,491.5 145.5,492.8 146.1,493.9 146.6,495.0 147.2,496.0 147.8,496.9 148.4,497.7 148.9,498.4 149.5,499.1 150.1,499.7 150.6,500.2 151.2,500.7 151.8,501.2 152.3,501.6 152.9,502.0 153.5,502.3 154.1,502.6 154.6,502.9 155.2,503.2 155.8,503.4 156.3,503.6 156.9,503.8 157.5,504.0 158.0,504.2 158.6,504.3 159.2,504.5 159.7,504.6 160.3,504.7 160.9,504.9 161.5,505.0 162.0,505.1 162.6,505.2 163.2,505.3 163.7,505.4 164.3,505.5 164.9,505.6 165.4,505.6 166.0,505.7 166.6,505.8 167.1,505.9 167.7,505.9 168.3,506.0 168.9,506.1 169.4,506.1 170.0,506.2 170.6,506.2 171.1,506.3 171.7,506.4 172.3,506.4 172.8,506.5 173.4,506.5 174.0,506.6 174.6,506.6 175.1,506.7 175.7,506.7 176.3,506.7 176.8,506.8 177.4,506.8 178.0,506.9 178.5,506.9 179.1,507.0 179.7,507.0 180.2,507.0 180.8,507.1 181.4,507.1 182.0,507.1 182.5,507.2 183.1,507.2 183.7,507.2 184.2,507.3 184.8,507.3 185.4,507.3 185.9,507.3 186.5,507.4 187.1,507.4 187.7,507.4 188.2,507.5 188.8,507.5 189.4,507.5 189.9,507.5 190.5,507.6 191.1,507.6 191.6,507.6 192.2,507.6 192.8,507.7 193.3,507.7 193.9,507.7 194.5,507.7 195.1,507.7 195.6,507.8 196.2,507.8 196.8,507.8 197.3,507.8 197.9,507.8 198.5,507.9 199.0,507.9 199.6,507.9 200.2,507.9 200.7,507.9 201.3,508.0 201.9,508.0 202.5,508.0 203.0,508.0 203.6,508.0 204.2,508.0 204.7,508.1 205.3,508.1 205.9,508.1 206.4,508.1 207.0,508.1 207.6,508.1 208.2,508.2 208.7,508.2 209.3,508.2 209.9,508.2 210.4,508.2 211.0,508.2 211.6,508.3 212.1,508.3 212.7,508.3 213.3,508.3 213.8,508.3 214.4,508.3 215.0,508.3 215.6,508.4 216.1,508.4 216.7,508.4 217.3,508.4 217.8,508.4 218.4,508.4 219.0,508.4 219.5,508.4 220.1,508.5 220.7,508.5 221.2,508.5 221.8,508.5 222.4,508.5 223.0,508.5 223.5,508.5 224.1,508.5 224.7,508.6 225.2,508.6 225.8,508.6 226.4,508.6 226.9,508.6 227.5,508.6 228.1,508.6 228.7,508.6 229.2,508.7 229.8,508.7 230.4,508.7 230.9,508.7 231.5,508.7 232.1,508.7 232.6,508.7 233.2,508.7 233.8,508.7 234.3,508.8 234.9,508.8 235.5,508.8 236.1,508.8 236.6,508.8 237.2,508.8 237.8,508.8 238.3,508.8 238.9,508.8 239.5,508.9 240.0,508.9 240.6,508.9 241.2,508.9 241.8,508.9 242.3,508.9 242.9,508.9 243.5,508.9 244.0,508.9 244.6,509.0 245.2,509.0 245.7,509.0 246.3,509.0 246.9,509.0 247.4,509.0 248.0,509.0 248.6,509.0 249.2,509.0 249.7,509.0 250.3,509.1 250.9,509.1 251.4,509.1 252.0,509.1 252.6,509.1 253.1,509.1 253.7,509.1 254.3,509.1 254.8,509.1 255.4,509.1 256.0,509.1 256.6,509.2 257.1,509.2 257.7,509.2 258.3,509.2 258.8,509.2 259.4,509.2 260.0,509.2 260.5,509.2 261.1,509.2 261.7,509.2 262.3,509.3 262.8,509.3 263.4,509.3 264.0,509.3 264.5,509.3 265.1,509.3 265.7,509.3 266.2,509.3 266.8,509.3 267.4,509.3 267.9,509.3 268.5,509.4 269.1,509.4 269.7,509.4 270.2,509.4 270.8,509.4 271.4,509.4 271.9,509.4 272.5,509.4 273.1,509.4 273.6,509.4 274.2,509.4 274.8,509.5 275.3,509.5 275.9,509.5 276.5,509.5 277.1,509.5 277.6,509.5 278.2,509.5 278.8,509.5 279.3,509.5 279.9,509.5" fill="none" stroke="#d01818" stroke-width="1.3" stroke-linejoin="round" stroke-linecap="round" /></g><rect x="52.6" y="300.8" width="267.2" height="219.2" fill="none" stroke="#000" stroke-width="2"/><line x1="52.6" y1="509.7" x2="59.1" y2="509.7" stroke="#000" stroke-width="1.8"/><line x1="52.6" y1="492.2" x2="56.6" y2="492.2" stroke="#000" stroke-width="1.8"/><text x="40.18" y="511.80" font-family="Liberation Sans, sans-serif" font-size="9.6" font-weight="bold" fill="#111" textLength="5.85" lengthAdjust="spacingAndGlyphs" >0</text><line x1="52.6" y1="474.8" x2="59.1" y2="474.8" stroke="#000" stroke-width="1.8"/><line x1="52.6" y1="457.3" x2="56.6" y2="457.3" stroke="#000" stroke-width="1.8"/><text x="40.30" y="476.90" font-family="Liberation Sans, sans-serif" font-size="9.6" font-weight="bold" fill="#111" textLength="5.56" lengthAdjust="spacingAndGlyphs" >5</text><line x1="52.6" y1="439.9" x2="59.1" y2="439.9" stroke="#000" stroke-width="1.8"/><line x1="52.6" y1="422.4" x2="56.6" y2="422.4" stroke="#000" stroke-width="1.8"/><text x="34.58" y="442.00" font-family="Liberation Sans, sans-serif" font-size="9.6" font-weight="bold" fill="#111" textLength="11.45" lengthAdjust="spacingAndGlyphs" >10</text><line x1="52.6" y1="405.0" x2="59.1" y2="405.0" stroke="#000" stroke-width="1.8"/><line x1="52.6" y1="387.5" x2="56.6" y2="387.5" stroke="#000" stroke-width="1.8"/><text x="34.59" y="407.10" font-family="Liberation Sans, sans-serif" font-size="9.6" font-weight="bold" fill="#111" textLength="11.29" lengthAdjust="spacingAndGlyphs" >15</text><line x1="52.6" y1="370.1" x2="59.1" y2="370.1" stroke="#000" stroke-width="1.8"/><line x1="52.6" y1="352.6" x2="56.6" y2="352.6" stroke="#000" stroke-width="1.8"/><text x="34.85" y="372.20" font-family="Liberation Sans, sans-serif" font-size="9.6" font-weight="bold" fill="#111" textLength="11.18" lengthAdjust="spacingAndGlyphs" >20</text><line x1="52.6" y1="335.2" x2="59.1" y2="335.2" stroke="#000" stroke-width="1.8"/><line x1="52.6" y1="317.8" x2="56.6" y2="317.8" stroke="#000" stroke-width="1.8"/><text x="34.85" y="337.30" font-family="Liberation Sans, sans-serif" font-size="9.6" font-weight="bold" fill="#111" textLength="11.02" lengthAdjust="spacingAndGlyphs" >25</text><line x1="52.6" y1="300.3" x2="59.1" y2="300.3" stroke="#000" stroke-width="1.8"/><text x="34.95" y="302.40" font-family="Liberation Sans, sans-serif" font-size="9.6" font-weight="bold" fill="#111" textLength="11.07" lengthAdjust="spacingAndGlyphs" >30</text><line x1="60.8" y1="520.0" x2="60.8" y2="513.0" stroke="#000" stroke-width="1.8"/><line x1="85.1" y1="520.0" x2="85.1" y2="516.0" stroke="#000" stroke-width="1.8"/><text x="49.31" y="535.70" font-family="Liberation Sans, sans-serif" font-size="10.6" font-weight="bold" fill="#111" textLength="21.48" lengthAdjust="spacingAndGlyphs" >23.1</text><line x1="109.5" y1="520.0" x2="109.5" y2="513.0" stroke="#000" stroke-width="1.8"/><line x1="133.8" y1="520.0" x2="133.8" y2="516.0" stroke="#000" stroke-width="1.8"/><text x="98.01" y="535.70" font-family="Liberation Sans, sans-serif" font-size="10.6" font-weight="bold" fill="#111" textLength="21.25" lengthAdjust="spacingAndGlyphs" >23.4</text><line x1="158.2" y1="520.0" x2="158.2" y2="513.0" stroke="#000" stroke-width="1.8"/><line x1="182.5" y1="520.0" x2="182.5" y2="516.0" stroke="#000" stroke-width="1.8"/><text x="146.68" y="535.70" font-family="Liberation Sans, sans-serif" font-size="10.6" font-weight="bold" fill="#111" textLength="22.31" lengthAdjust="spacingAndGlyphs" >23.7</text><line x1="206.9" y1="520.0" x2="206.9" y2="513.0" stroke="#000" stroke-width="1.8"/><line x1="231.2" y1="520.0" x2="231.2" y2="516.0" stroke="#000" stroke-width="1.8"/><text x="195.38" y="535.70" font-family="Liberation Sans, sans-serif" font-size="10.6" font-weight="bold" fill="#111" textLength="21.65" lengthAdjust="spacingAndGlyphs" >24.0</text><line x1="255.6" y1="520.0" x2="255.6" y2="513.0" stroke="#000" stroke-width="1.8"/><line x1="279.9" y1="520.0" x2="279.9" y2="516.0" stroke="#000" stroke-width="1.8"/><text x="244.07" y="535.70" font-family="Liberation Sans, sans-serif" font-size="10.6" font-weight="bold" fill="#111" textLength="21.59" lengthAdjust="spacingAndGlyphs" >24.3</text><line x1="304.2" y1="520.0" x2="304.2" y2="513.0" stroke="#000" stroke-width="1.8"/><text x="292.76" y="535.70" font-family="Liberation Sans, sans-serif" font-size="10.6" font-weight="bold" fill="#111" textLength="21.59" lengthAdjust="spacingAndGlyphs" >24.6</text><text x="68.80" y="324.30" font-family="Liberation Sans, sans-serif" font-size="11.6" font-weight="bold" fill="#111" textLength="85.25" lengthAdjust="spacingAndGlyphs" >Rocking curve</text><text x="277.03" y="330.80" font-family="Liberation Sans, sans-serif" font-size="22" font-weight="bold" fill="#111" textLength="29.87" lengthAdjust="spacingAndGlyphs" >(b)</text><text transform="translate(132.60,421.43) rotate(-90)" x="0" y="0" font-family="Liberation Sans, sans-serif" font-size="10.2" font-weight="bold" fill="#111" textLength="53.17" lengthAdjust="spacingAndGlyphs"  stroke="#111" stroke-width="0.35">LSMO (001)</text><text transform="translate(231.20,363.42) rotate(-90)" x="0" y="0" font-family="Liberation Sans, sans-serif" font-size="10.2" font-weight="bold" fill="#2e952e" textLength="52.66" lengthAdjust="spacingAndGlyphs"  stroke="#2e952e" stroke-width="0.35">ESMO (001)</text><text x="58.19" y="467.40" font-family="Liberation Sans, sans-serif" font-size="7.5" font-weight="bold" fill="#2a2ad0" textLength="53.41" lengthAdjust="spacingAndGlyphs" >FWHM ~ 0.129</text><text x="228.89" y="411.30" font-family="Liberation Sans, sans-serif" font-size="7.5" font-weight="bold" fill="#2a2ad0" textLength="53.27" lengthAdjust="spacingAndGlyphs" >FWHM ~ 0.128</text><line x1="122.8" y1="465.2" x2="134.6" y2="465.2" stroke="#2030d0" stroke-width="1.2"/><path d="M119.8,465.2 l4,-2 v4z M137.6,465.2 l-4,-2 v4z" fill="#2030d0"/><line x1="197.6" y1="453.3" x2="211.6" y2="453.3" stroke="#2030d0" stroke-width="1.2"/><path d="M194.6,453.3 l4,-2 v4z M214.6,453.3 l-4,-2 v4z" fill="#2030d0"/><text transform="translate(19.00,478.37) rotate(-90)" x="0" y="0" font-family="Liberation Sans, sans-serif" font-size="14.8" font-weight="bold" fill="#111" textLength="86.97" lengthAdjust="spacingAndGlyphs" >Intensity (10</text><text transform="translate(9.80,391.98) rotate(-90)" x="0" y="0" font-family="Liberation Sans, sans-serif" font-size="8.5" font-weight="bold" fill="#111" textLength="6.65" lengthAdjust="spacingAndGlyphs" >4</text><text transform="translate(19.00,380.15) rotate(-90)" x="0" y="0" font-family="Liberation Sans, sans-serif" font-size="14.8" font-weight="bold" fill="#111" textLength="30.94" lengthAdjust="spacingAndGlyphs" >a.u.)</text><text x="124.24" y="556.20" font-family="Liberation Serif, serif" font-size="15" font-weight="normal" fill="#111" textLength="10.78" lengthAdjust="spacingAndGlyphs" >ω</text><text x="138.57" y="555.80" font-family="Liberation Sans, sans-serif" font-size="16" font-weight="bold" fill="#111" textLength="5.22" lengthAdjust="spacingAndGlyphs" >-</text><text x="148.14" y="555.80" font-family="Liberation Sans, sans-serif" font-size="16" font-weight="bold" fill="#111" textLength="112.23" lengthAdjust="spacingAndGlyphs" >scan (degrees)</text><defs><clipPath id="clipc"><rect x="331" y="4" width="306.5" height="514.5"/></clipPath></defs><g clip-path="url(#clipc)"><polyline points="330.6,8.4 331.1,11.3 331.6,14.2 332.1,17.0 332.6,19.1 333.1,21.3 333.6,23.5 334.1,25.4 334.6,26.2 335.1,26.9 335.6,27.7 336.1,28.4 336.6,29.1 337.1,29.7 337.6,30.3 338.1,31.0 338.6,31.9 339.1,32.8 339.6,33.9 340.1,35.0 340.6,36.1 341.1,37.3 341.6,38.6 342.1,39.8 342.6,41.0 343.1,42.1 343.6,43.0 344.1,43.8 344.6,44.4 345.1,44.9 345.6,45.2 346.1,45.5 346.6,45.8 347.1,46.1 347.6,46.5 348.1,47.0 348.6,47.6 349.1,48.3 349.6,49.1 350.1,50.0 350.6,51.0 351.1,52.0 351.6,53.0 352.1,53.9 352.6,54.7 353.1,55.3 353.6,55.8 354.1,56.1 354.6,56.3 355.1,56.3 355.6,56.2 356.1,56.2 356.6,56.0 357.1,56.0 357.6,56.1 358.1,56.3 358.6,56.7 359.1,57.3 359.6,58.0 360.1,58.8 360.6,59.7 361.1,60.6 361.6,61.5 362.1,62.2 362.6,62.8 363.1,63.2 363.6,63.5 364.1,63.5 364.6,63.5 365.1,63.3 365.6,63.1 366.1,62.9 366.6,62.8 367.1,62.7 367.6,62.8 368.1,63.1 368.6,63.6 369.1,64.2 369.6,64.9 370.1,65.7 370.6,66.6 371.1,67.4 371.6,68.1 372.1,68.7 372.6,69.2 373.1,69.4 373.6,69.5 374.1,69.5 374.6,69.3 375.1,69.0 375.6,68.8 376.1,68.5 376.6,68.3 377.1,68.3 377.6,68.4 378.1,68.6 378.6,69.1 379.1,69.7 379.6,70.4 380.1,71.1 380.6,71.9 381.1,72.6 381.6,73.3 382.1,73.8 382.6,74.1 383.1,74.3 383.6,74.3 384.1,74.2 384.6,73.9 385.1,73.6 385.6,73.3 386.1,73.1 386.6,72.9 387.1,72.9 387.6,73.0 388.1,73.3 388.6,73.8 389.1,74.4 389.6,75.1 390.1,75.9 390.6,76.6 391.1,77.3 391.6,77.9 392.1,78.3 392.6,78.6 393.1,78.7 393.6,78.7 394.1,78.5 394.6,78.2 395.1,77.9 395.6,77.6 396.1,77.4 396.6,77.3 397.1,77.3 397.6,77.5 398.1,77.9 398.6,78.4 399.1,79.0 399.6,79.8 400.1,80.5 400.6,81.3 401.1,81.9 401.6,82.4 402.1,82.8 402.6,83.0 403.1,83.0 403.6,82.9 404.1,82.6 404.6,82.3 405.1,82.0 405.6,81.7 406.1,81.5 406.6,81.5 407.1,81.6 407.6,81.8 408.1,82.3 408.6,82.8 409.1,83.5 409.6,84.2 410.1,84.9 410.6,85.6 411.1,86.2 411.6,86.7 412.1,87.0 412.6,87.1 413.1,87.1 413.6,86.9 414.1,86.6 414.6,86.3 415.1,85.9 415.6,85.7 416.1,85.5 416.6,85.5 417.1,85.6 417.6,85.9 418.1,86.4 418.6,87.0 419.1,87.7 419.6,88.4 420.1,89.1 420.6,89.7 421.1,90.2 421.6,90.6 422.1,90.8 422.6,90.8 423.1,90.7 423.6,90.5 424.1,90.2 424.6,89.8 425.1,89.5 425.6,89.3 426.1,89.2 426.6,89.2 427.1,89.4 427.6,89.8 428.1,90.3 428.6,90.9 429.1,91.6 429.6,92.4 430.1,93.0 430.6,93.6 431.1,94.1 431.6,94.4 432.1,94.5 432.6,94.5 433.1,94.3 433.6,94.1 434.1,93.7 434.6,93.3 435.1,93.0 435.6,92.7 436.1,92.6 436.6,92.7 437.1,92.9 437.6,93.3 438.1,93.8 438.6,94.4 439.1,95.1 439.6,95.7 440.1,96.3 440.6,96.8 441.1,97.2 441.6,97.4 442.1,97.4 442.6,97.3 443.1,97.0 443.6,96.7 444.1,96.3 444.6,95.9 445.1,95.6 445.6,95.4 446.1,95.4 446.6,95.5 447.1,95.8 447.6,96.2 448.1,96.8 448.6,97.4 449.1,98.1 449.6,98.7 450.1,99.2 450.6,99.6 451.1,99.9 451.6,100.0 452.1,99.9 452.6,99.7 453.1,99.4 453.6,99.0 454.1,98.6 454.6,98.3 455.1,98.0 455.6,97.8 456.1,97.8 456.6,98.0 457.1,98.3 457.6,98.8 458.1,99.4 458.6,100.0 459.1,100.6 459.6,101.2 460.1,101.7 460.6,102.0 461.1,102.2 461.6,102.3 462.1,102.2 462.6,101.9 463.1,101.6 463.6,101.2 464.1,100.8 464.6,100.4 465.1,100.2 465.6,100.1 466.1,100.2 466.6,100.4 467.1,100.8 467.6,101.3 468.1,101.9 468.6,102.5 469.1,103.2 469.6,103.7 470.1,104.2 470.6,104.5 471.1,104.6 471.6,104.6 472.1,104.4 472.6,104.1 473.1,103.7 473.6,103.3 474.1,103.0 474.6,102.7 475.1,102.5 475.6,102.5 476.1,102.6 476.6,102.9 477.1,103.3 477.6,103.9 478.1,104.5 478.6,105.1 479.1,105.7 479.6,106.2 480.1,106.6 480.6,106.8 481.1,106.9 481.6,106.8 482.1,106.6 482.6,106.2 483.1,105.8 483.6,105.5 484.1,105.1 484.6,104.8 485.1,104.7 485.6,104.8 486.1,104.9 486.6,105.3 487.1,105.8 487.6,106.4 488.1,107.0 488.6,107.6 489.1,108.1 489.6,108.6 490.1,108.9 490.6,109.1 491.1,109.1 491.6,108.9 492.1,108.7 492.6,108.3 493.1,107.9 493.6,107.5 494.1,107.2 494.6,107.0 495.1,106.9 495.6,107.0 496.1,107.3 496.6,107.7 497.1,108.2 497.6,108.8 498.1,109.4 498.6,110.0 499.1,110.5 499.6,110.9 500.1,111.2 500.6,111.3 501.1,111.2 501.6,111.0 502.1,110.7 502.6,110.3 503.1,110.0 503.6,109.6 504.1,109.3 504.6,109.2 505.1,109.2 505.6,109.3 506.1,109.7 506.6,110.1 507.1,110.7 507.6,111.3 508.1,111.9 508.6,112.5 509.1,112.9 509.6,113.3 510.1,113.5 510.6,113.5 511.1,113.4 511.6,113.2 512.1,112.8 512.6,112.4 513.1,112.0 513.6,111.7 514.1,111.5 514.6,111.4 515.1,111.5 515.6,111.7 516.1,112.1 516.6,112.6 517.1,113.1 517.6,113.8 518.1,114.4 518.6,114.9 519.1,115.3 519.6,115.6 520.1,115.8 520.6,115.7 521.1,115.5 521.6,115.3 522.1,114.9 522.6,114.5 523.1,114.1 523.6,113.8 524.1,113.7 524.6,113.6 525.1,113.8 525.6,114.1 526.1,114.5 526.6,115.0 527.1,115.6 527.6,116.2 528.1,116.8 528.6,117.3 529.1,117.7 529.6,117.9 530.1,117.9 530.6,117.9 531.1,117.6 531.6,117.3 532.1,116.9 532.6,116.5 533.1,116.2 533.6,115.9 534.1,115.8 534.6,115.8 535.1,116.0 535.6,116.4 536.1,116.8 536.6,117.4 537.1,118.0 537.6,118.6 538.1,119.2 538.6,119.6 539.1,119.9 539.6,120.1 540.1,120.1 540.6,119.9 541.1,119.7 541.6,119.3 542.1,118.9 542.6,118.5 543.1,118.2 543.6,118.0 544.1,118.0 544.6,118.1 545.1,118.3 545.6,118.7 546.1,119.2 546.6,119.8 547.1,120.4 547.6,121.0 548.1,121.5 548.6,121.9 549.1,122.2 549.6,122.2 550.1,122.2 550.6,122.0 551.1,121.7 551.6,121.3 552.1,120.9 552.6,120.6 553.1,120.3 553.6,120.1 554.1,120.1 554.6,120.3 555.1,120.6 555.6,121.1 556.1,121.6 556.6,122.2 557.1,122.8 557.6,123.4 558.1,123.8 558.6,124.2 559.1,124.4 559.6,124.4 560.1,124.3 560.6,124.0 561.1,123.7 561.6,123.3 562.1,122.9 562.6,122.6 563.1,122.4 563.6,122.3 564.1,122.4 564.6,122.6 565.1,122.9 565.6,123.4 566.1,124.0 566.6,124.6 567.1,125.2 567.6,125.7 568.1,126.1 568.6,126.4 569.1,126.5 569.6,126.5 570.1,126.3 570.6,126.0 571.1,125.7 571.6,125.3 572.1,124.9 572.6,124.7 573.1,124.5 573.6,124.5 574.1,124.6 574.6,124.9 575.1,125.3 575.6,125.8 576.1,126.4 576.6,127.0 577.1,127.6 577.6,128.0 578.1,128.4 578.6,128.6 579.1,128.7 579.6,128.6 580.1,128.4 580.6,128.1 581.1,127.7 581.6,127.3 582.1,127.0 582.6,126.7 583.1,126.6 583.6,126.7 584.1,126.8 584.6,127.2 585.1,127.6 585.6,128.2 586.1,128.8 586.6,129.4 587.1,129.9 587.6,130.4 588.1,130.7 588.6,130.8 589.1,130.8 589.6,130.7 590.1,130.0 590.6,130.3 591.1,129.8 591.6,128.9 592.1,129.7 592.6,127.9 593.1,128.2 593.6,129.1 594.1,130.6 594.6,130.0 595.1,129.6 595.6,131.2 596.1,131.9 596.6,132.6 597.1,132.3 597.6,132.5 598.1,133.3 598.6,133.6 599.1,134.3 599.6,134.4 600.1,132.5 600.6,132.2 601.1,132.2 601.6,131.7 602.1,131.9 602.6,131.8 603.1,131.7 603.6,132.5 604.1,131.9 604.6,131.8 605.1,132.1 605.6,133.0 606.1,133.6 606.6,133.6 607.1,135.6 607.6,135.7 608.1,135.5 608.6,135.3 609.1,134.8 609.6,135.0 610.1,136.3 610.6,133.5 611.1,134.6 611.6,134.7 612.1,134.1 612.6,133.7 613.1,134.5 613.6,133.6 614.1,135.0 614.6,136.0 615.1,135.1 615.6,135.8 616.1,137.0 616.6,138.0 617.1,138.7 617.6,138.5 618.1,137.9 618.6,137.6 619.1,138.3 619.6,138.1 620.1,136.9 620.6,137.2 621.1,137.0 621.6,137.2 622.1,135.8 622.6,136.7 623.1,135.8 623.6,136.6 624.1,137.2 624.6,138.7 625.1,140.4 625.6,139.1 626.1,139.9 626.6,140.6 627.1,139.6 627.6,141.1 628.1,139.9 628.6,141.6 629.1,141.3 629.6,140.4 630.1,139.3 630.6,140.4 631.1,139.2 631.6,138.9 632.1,139.1 632.6,137.7 633.1,139.2 633.6,139.9 634.1,139.9 634.6,140.4 635.1,140.3 635.6,141.9 636.1,142.1 636.6,142.4 637.1,142.4 637.6,143.4" fill="none" stroke="#111" stroke-width="2.4" stroke-linejoin="round" stroke-linecap="round"/><polyline points="330.6,8.2 331.1,11.0 331.6,13.8 332.1,16.5 332.6,18.5 333.1,20.6 333.6,22.6 334.1,24.3 334.6,25.0 335.1,25.6 335.6,26.2 336.1,26.8 336.6,27.4 337.1,27.9 337.6,28.5 338.1,29.2 338.6,30.0 339.1,31.0 339.6,32.0 340.1,33.1 340.6,34.2 341.1,35.4 341.6,36.5 342.1,37.6 342.6,38.7 343.1,39.6 343.6,40.3 344.1,40.9 344.6,41.4 345.1,41.7 345.6,42.1 346.1,42.4 346.6,42.7 347.1,43.1 347.6,43.6 348.1,44.2 348.6,45.0 349.1,45.9 349.6,46.8 350.1,47.8 350.6,48.9 351.1,49.9 351.6,50.8 352.1,51.6 352.6,52.3 353.1,52.8 353.6,53.1 354.1,53.2 354.6,53.3 355.1,53.3 355.6,53.2 356.1,53.2 356.6,53.2 357.1,53.3 357.6,53.5 358.1,53.9 358.6,54.5 359.1,55.3 359.6,56.1 360.1,57.0 360.6,57.9 361.1,58.8 361.6,59.6 362.1,60.2 362.6,60.6 363.1,60.9 363.6,61.0 364.1,60.9 364.6,60.8 365.1,60.6 365.6,60.4 366.1,60.3 366.6,60.2 367.1,60.4 367.6,60.7 368.1,61.1 368.6,61.8 369.1,62.5 369.6,63.3 370.1,64.2 370.6,65.0 371.1,65.8 371.6,66.4 372.1,66.9 372.6,67.2 373.1,67.4 373.6,67.4 374.1,67.2 374.6,67.0 375.1,66.8 375.6,66.6 376.1,66.5 376.6,66.4 377.1,66.6 377.6,66.9 378.1,67.4 378.6,68.0 379.1,68.8 379.6,69.6 380.1,70.4 380.6,71.2 381.1,71.9 381.6,72.4 382.1,72.8 382.6,73.1 383.1,73.1 383.6,73.0 384.1,72.8 384.6,72.6 385.1,72.3 385.6,72.1 386.1,72.0 386.6,72.0 387.1,72.2 387.6,72.6 388.1,73.1 388.6,73.8 389.1,74.5 389.6,75.3 390.1,76.1 390.6,76.8 391.1,77.4 391.6,77.8 392.1,78.1 392.6,78.2 393.1,78.1 393.6,78.0 394.1,77.7 394.6,77.4 395.1,77.1 395.6,76.9 396.1,76.7 396.6,76.8 397.1,77.0 397.6,77.4 398.1,77.9 398.6,78.5 399.1,79.3 399.6,80.0 400.1,80.7 400.6,81.4 401.1,81.9 401.6,82.3 402.1,82.5 402.6,82.5 403.1,82.4 403.6,82.1 404.1,81.8 404.6,81.5 405.1,81.2 405.6,81.0 406.1,81.0 406.6,81.1 407.1,81.3 407.6,81.7 408.1,82.3 408.6,83.0 409.1,83.7 409.6,84.4 410.1,85.1 410.6,85.7 411.1,86.2 411.6,86.5 412.1,86.6 412.6,86.5 413.1,86.4 413.6,86.1 414.1,85.8 414.6,85.5 415.1,85.2 415.6,85.0 416.1,85.0 416.6,85.1 417.1,85.4 417.6,85.9 418.1,86.5 418.6,87.2 419.1,87.9 419.6,88.6 420.1,89.2 420.6,89.7 421.1,90.1 421.6,90.3 422.1,90.3 422.6,90.2 423.1,90.0 423.6,89.7 424.1,89.4 424.6,89.0 425.1,88.8 425.6,88.7 426.1,88.7 426.6,88.9 427.1,89.3 427.6,89.8 428.1,90.5 428.6,91.2 429.1,91.9 429.6,92.5 430.1,93.1 430.6,93.6 431.1,93.9 431.6,94.0 432.1,94.0 432.6,93.8 433.1,93.6 433.6,93.3 434.1,92.9 434.6,92.5 435.1,92.3 435.6,92.2 436.1,92.3 436.6,92.5 437.1,92.9 437.6,93.4 438.1,94.0 438.6,94.6 439.1,95.3 439.6,95.9 440.1,96.4 440.6,96.7 441.1,96.9 441.6,97.0 442.1,96.8 442.6,96.6 443.1,96.2 443.6,95.8 444.1,95.5 444.6,95.2 445.1,95.0 445.6,94.9 446.1,95.1 446.6,95.4 447.1,95.8 447.6,96.4 448.1,97.0 448.6,97.6 449.1,98.3 449.6,98.8 450.1,99.2 450.6,99.5 451.1,99.6 451.6,99.5 452.1,99.3 452.6,99.0 453.1,98.6 453.6,98.2 454.1,97.8 454.6,97.6 455.1,97.4 455.6,97.4 456.1,97.6 456.6,97.9 457.1,98.4 457.6,98.9 458.1,99.6 458.6,100.2 459.1,100.8 459.6,101.3 460.1,101.6 460.6,101.8 461.1,101.9 461.6,101.7 462.1,101.5 462.6,101.1 463.1,100.7 463.6,100.3 464.1,100.0 464.6,99.8 465.1,99.7 465.6,99.8 466.1,100.0 466.6,100.4 467.1,100.9 467.6,101.5 468.1,102.1 468.6,102.7 469.1,103.3 469.6,103.7 470.1,104.0 470.6,104.2 471.1,104.1 471.6,104.0 472.1,103.7 472.6,103.3 473.1,102.9 473.6,102.5 474.1,102.2 474.6,102.1 475.1,102.0 475.6,102.2 476.1,102.5 476.6,102.9 477.1,103.5 477.6,104.1 478.1,104.7 478.6,105.3 479.1,105.8 479.6,106.2 480.1,106.4 480.6,106.5 481.1,106.4 481.6,106.2 482.1,105.8 482.6,105.4 483.1,105.0 483.6,104.7 484.1,104.4 484.6,104.3 485.1,104.3 485.6,104.5 486.1,104.9 486.6,105.4 487.1,105.9 487.6,106.6 488.1,107.2 488.6,107.7 489.1,108.2 489.6,108.5 490.1,108.7 490.6,108.7 491.1,108.5 491.6,108.2 492.1,107.9 492.6,107.5 493.1,107.1 493.6,106.8 494.1,106.6 494.6,106.5 495.1,106.6 495.6,106.9 496.1,107.3 496.6,107.8 497.1,108.4 497.6,109.0 498.1,109.6 498.6,110.1 499.1,110.5 499.6,110.8 500.1,110.9 500.6,110.8 501.1,110.6 501.6,110.3 502.1,109.9 502.6,109.5 503.1,109.2 503.6,108.9 504.1,108.8 504.6,108.8 505.1,108.9 505.6,109.2 506.1,109.7 506.6,110.3 507.1,110.9 507.6,111.5 508.1,112.1 508.6,112.5 509.1,112.9 509.6,113.1 510.1,113.1 510.6,113.0 511.1,112.7 511.6,112.4 512.1,112.0 512.6,111.6 513.1,111.3 513.6,111.1 514.1,111.0 514.6,111.0 515.1,111.3 515.6,111.6 516.1,112.1 516.6,112.7 517.1,113.4 517.6,114.0 518.1,114.5 518.6,114.9 519.1,115.2 519.6,115.3 520.1,115.3 520.6,115.1 521.1,114.8 521.6,114.5 522.1,114.1 522.6,113.7 523.1,113.4 523.6,113.3 524.1,113.2 524.6,113.4 525.1,113.6 525.6,114.1 526.1,114.6 526.6,115.2 527.1,115.8 527.6,116.4 528.1,116.9 528.6,117.3 529.1,117.5 529.6,117.5 530.1,117.4 530.6,117.2 531.1,116.9 531.6,116.5 532.1,116.1 532.6,115.8 533.1,115.5 533.6,115.4 534.1,115.4 534.6,115.6 535.1,116.0 535.6,116.4 536.1,117.0 536.6,117.6 537.1,118.2 537.6,118.8 538.1,119.2 538.6,119.5 539.1,119.7 539.6,119.7 540.1,119.5 540.6,119.2 541.1,118.9 541.6,118.5 542.1,118.1 542.6,117.8 543.1,117.6 543.6,117.6 544.1,117.6 544.6,117.9 545.1,118.3 545.6,118.8 546.1,119.4 546.6,120.0 547.1,120.6 547.6,121.1 548.1,121.5 548.6,121.7 549.1,121.8 549.6,121.8 550.1,121.6 550.6,121.3 551.1,120.9 551.6,120.5 552.1,120.2 552.6,119.9 553.1,119.7 553.6,119.7 554.1,119.9 554.6,120.2 555.1,120.7 555.6,121.2 556.1,121.8 556.6,122.4 557.1,123.0 557.6,123.4 558.1,123.8 558.6,123.9 559.1,124.0 559.6,123.9 560.1,123.6 560.6,123.3 561.1,122.9 561.6,122.5 562.1,122.2 562.6,122.0 563.1,121.9 563.6,121.9 564.1,122.2 564.6,122.5 565.1,123.0 565.6,123.6 566.1,124.2 566.6,124.8 567.1,125.3 567.6,125.7 568.1,126.0 568.6,126.1 569.1,126.1 569.6,125.9 570.1,125.6 570.6,125.3 571.1,124.9 571.6,124.5 572.1,124.3 572.6,124.1 573.1,124.0 573.6,124.2 574.1,124.5 574.6,124.9 575.1,125.4 575.6,126.0 576.1,126.6 576.6,127.2 577.1,127.6 577.6,128.0 578.1,128.2 578.6,128.3 579.1,128.2 579.6,128.0 580.1,127.7 580.6,127.3 581.1,126.9 581.6,126.6 582.1,126.3 582.6,126.2 583.1,126.2 583.6,126.4 584.1,126.8 584.6,127.2 585.1,127.8 585.6,128.4 586.1,129.0 586.6,129.5 587.1,129.9 587.6,130.3 588.1,130.4 588.6,130.4 589.1,130.3 589.6,130.0 590.1,129.7 590.6,129.3 591.1,128.9 591.6,128.6 592.1,128.4 592.6,128.4 593.1,128.5 593.6,128.7 594.1,129.1 594.6,129.6 595.1,130.2 595.6,130.8 596.1,131.3 596.6,131.9 597.1,132.2 597.6,132.5 598.1,132.6 598.6,132.5 599.1,132.3 599.6,132.0 600.1,131.7 600.6,131.3 601.1,130.9 601.6,130.7 602.1,130.5 602.6,130.5 603.1,130.7 603.6,131.0 604.1,131.4 604.6,131.9 605.1,132.5 605.6,133.1 606.1,133.6 606.6,134.1 607.1,134.4 607.6,134.6 608.1,134.6 608.6,134.5 609.1,134.2 609.6,133.9 610.1,133.5 610.6,133.1 611.1,132.8 611.6,132.6 612.1,132.5 612.6,132.6 613.1,132.8 613.6,133.1 614.1,133.6 614.6,134.1 615.1,134.7 615.6,135.3 616.1,135.8 616.6,136.2 617.1,136.5 617.6,136.6 618.1,136.6 618.6,136.4 619.1,136.1 619.6,135.7 620.1,135.4 620.6,135.0 621.1,134.7 621.6,134.5 622.1,134.5 622.6,134.6 623.1,134.9 623.6,135.3 624.1,135.8 624.6,136.4 625.1,137.0 625.6,137.5 626.1,138.0 626.6,138.3 627.1,138.5 627.6,138.6 628.1,138.4 628.6,138.2 629.1,137.9 629.6,137.5 630.1,137.1 630.6,136.8 631.1,136.5 631.6,136.4 632.1,136.4 632.6,136.6 633.1,136.9 633.6,137.3 634.1,137.9 634.6,138.4 635.1,139.0 635.6,139.5 636.1,139.9 636.6,140.2 637.1,140.3 637.6,140.3" fill="none" stroke="#d81418" stroke-width="2.3" stroke-linejoin="round" stroke-linecap="round"/><polyline points="330.6,195.4 331.1,195.6 331.6,195.8 332.1,196.0 332.6,196.2 333.1,196.4 333.6,196.6 334.1,196.7 334.6,197.2 335.1,197.6 335.6,198.0 336.1,198.4 336.6,198.8 337.1,199.1 337.6,199.5 338.1,199.8 338.6,200.3 339.1,200.8 339.6,201.8 340.1,203.0 340.6,204.3 341.1,205.6 341.6,207.0 342.1,208.4 342.6,209.8 343.1,211.2 343.6,212.6 344.1,213.5 344.6,214.4 345.1,215.0 345.6,215.4 346.1,215.6 346.6,215.9 347.1,216.1 347.6,216.1 348.1,216.4 348.6,216.8 349.1,217.3 349.6,217.8 350.1,218.8 350.6,219.4 351.1,220.2 351.6,221.5 352.1,222.5 352.6,223.9 353.1,225.1 353.6,226.6 354.1,227.6 354.6,228.9 355.1,229.9 355.6,230.7 356.1,231.3 356.6,231.7 357.1,231.6 357.6,232.0 358.1,232.1 358.6,232.1 359.1,232.1 359.6,232.3 360.1,231.8 360.6,231.8 361.1,231.7 361.6,231.8 362.1,231.4 362.6,232.0 363.1,231.8 363.6,231.9 364.1,232.4 364.6,233.0 365.1,233.6 365.6,234.2 366.1,235.1 366.6,235.8 367.1,236.6 367.6,237.2 368.1,238.5 368.6,239.4 369.1,240.1 369.6,240.6 370.1,241.5 370.6,242.6 371.1,242.8 371.6,243.3 372.1,243.6 372.6,244.1 373.1,244.0 373.6,244.0 374.1,243.8 374.6,243.9 375.1,244.0 375.6,243.6 376.1,243.6 376.6,243.2 377.1,243.0 377.6,242.9 378.1,242.7 378.6,242.9 379.1,242.8 379.6,242.7 380.1,243.1 380.6,243.3 381.1,243.8 381.6,244.2 382.1,244.9 382.6,245.1 383.1,246.2 383.6,247.1 384.1,247.3 384.6,248.7 385.1,249.2 385.6,249.8 386.1,250.1 386.6,251.5 387.1,251.6 387.6,252.2 388.1,252.8 388.6,252.8 389.1,253.0 389.6,253.1 390.1,253.5 390.6,253.6 391.1,253.4 391.6,253.3 392.1,252.9 392.6,252.8 393.1,252.3 393.6,252.8 394.1,252.1 394.6,251.3 395.1,251.3 395.6,251.9 396.1,251.0 396.6,251.3 397.1,251.6 397.6,251.3 398.1,252.1 398.6,252.5 399.1,252.2 399.6,253.2 400.1,253.1 400.6,253.6 401.1,254.5 401.6,255.1 402.1,255.5 402.6,256.5 403.1,256.5 403.6,257.3 404.1,257.8 404.6,258.9 405.1,259.4 405.6,259.7 406.1,259.5 406.6,260.2 407.1,260.5 407.6,259.9 408.1,260.2 408.6,260.7 409.1,260.6 409.6,260.2 410.1,260.1 410.6,259.8 411.1,259.4 411.6,259.0 412.1,258.5 412.6,258.4 413.1,258.1 413.6,258.9 414.1,258.0 414.6,257.9 415.1,257.8 415.6,258.0 416.1,258.1 416.6,258.7 417.1,258.8 417.6,259.6 418.1,259.5 418.6,260.5 419.1,261.3 419.6,261.2 420.1,262.3 420.6,263.0 421.1,263.3 421.6,263.8 422.1,263.7 422.6,265.6 423.1,265.0 423.6,265.1 424.1,266.4 424.6,265.1 425.1,266.8 425.6,266.5 426.1,266.6 426.6,266.0 427.1,265.1 427.6,264.4 428.1,266.5 428.6,264.8 429.1,264.5 429.6,265.8 430.1,263.8 430.6,263.8 431.1,263.5 431.6,263.4 432.1,262.5 432.6,262.8 433.1,264.4 433.6,264.0 434.1,260.9 434.6,262.0 435.1,264.3 435.6,264.2 436.1,264.4 436.6,266.3 437.1,264.1 437.6,267.6 438.1,267.1 438.6,268.1 439.1,268.4 439.6,269.7 440.1,269.1 440.6,269.4 441.1,271.4 441.6,271.1 442.1,270.1 442.6,273.4 443.1,273.5 443.6,274.1 444.1,272.4 444.6,272.8 445.1,271.9 445.6,271.2 446.1,272.0 446.6,271.9 447.1,270.7 447.6,273.7 448.1,269.1 448.6,269.5 449.1,269.3 449.6,271.7 450.1,269.2 450.6,269.0 451.1,268.5 451.6,268.6 452.1,268.3 452.6,271.4 453.1,271.1 453.6,272.2 454.1,270.3 454.6,276.0 455.1,271.2 455.6,270.9 456.1,273.0 456.6,274.2 457.1,276.0 457.6,274.3 458.1,276.8 458.6,279.5 459.1,275.8 459.6,276.2 460.1,275.7 460.6,277.6 461.1,278.9 461.6,278.7 462.1,278.7 462.6,279.8 463.1,276.9 463.6,278.4 464.1,275.5 464.6,275.3 465.1,276.0 465.6,274.7 466.1,276.0 466.6,277.5 467.1,275.2 467.6,273.8 468.1,273.7 468.6,277.0 469.1,273.7 469.6,274.3 470.1,274.2 470.6,274.7 471.1,277.4 471.6,275.1 472.1,275.3 472.6,279.5 473.1,277.3 473.6,278.9 474.1,277.8 474.6,280.1 475.1,281.8 475.6,282.5 476.1,279.7 476.6,280.1 477.1,281.3 477.6,281.1 478.1,282.1 478.6,280.9 479.1,280.9 479.6,282.0 480.1,282.7 480.6,282.2 481.1,284.4 481.6,282.3 482.1,280.0 482.6,282.1 483.1,279.4 483.6,282.1 484.1,279.4 484.6,279.6 485.1,278.8 485.6,278.2 486.1,278.4 486.6,277.9 487.1,278.6 487.6,279.0 488.1,280.3 488.6,283.1 489.1,279.1 489.6,278.7 490.1,279.6 490.6,284.0 491.1,280.3 491.6,282.2 492.1,281.9 492.6,280.8 493.1,283.1 493.6,282.6 494.1,282.3 494.6,283.4 495.1,283.9 495.6,286.2 496.1,285.0 496.6,284.2 497.1,284.9 497.6,285.4 498.1,287.3 498.6,288.0 499.1,285.4 499.6,284.7 500.1,287.2 500.6,284.9 501.1,289.5 501.6,287.8 502.1,283.7 502.6,285.7 503.1,287.3 503.6,284.1 504.1,283.8 504.6,282.1 505.1,282.0 505.6,283.5 506.1,282.1 506.6,283.6 507.1,283.7 507.6,281.5 508.1,283.5 508.6,281.9 509.1,282.4 509.6,282.5 510.1,286.6 510.6,284.8 511.1,285.0 511.6,284.6 512.1,288.1 512.6,286.1 513.1,286.1 513.6,285.8 514.1,288.3 514.6,289.1 515.1,291.4 515.6,291.3 516.1,288.0 516.6,289.9 517.1,288.0 517.6,291.1 518.1,288.7 518.6,289.3 519.1,288.2 519.6,287.5 520.1,289.3 520.6,287.7 521.1,285.8 521.6,286.5 522.1,290.0 522.6,286.2 523.1,284.7 523.6,287.9 524.1,291.3 524.6,284.9 525.1,289.4 525.6,289.3 526.1,290.2 526.6,284.8 527.1,288.9 527.6,285.1 528.1,286.3 528.6,286.2 529.1,286.9 529.6,285.7 530.1,286.2 530.6,291.0 531.1,287.1 531.6,288.0 532.1,287.8 532.6,287.9 533.1,290.9 533.6,291.3 534.1,289.2 534.6,288.2 535.1,288.6 535.6,291.3 536.1,289.8 536.6,288.1 537.1,288.6 537.6,288.9 538.1,290.1 538.6,289.1 539.1,291.4 539.6,292.2 540.1,288.9 540.6,288.1 541.1,292.1 541.6,293.3 542.1,286.7 542.6,286.6 543.1,287.3 543.6,288.8 544.1,286.6 544.6,292.1 545.1,286.6 545.6,286.9 546.1,288.9 546.6,286.9 547.1,287.0 547.6,288.3 548.1,287.4 548.6,287.7 549.1,288.2 549.6,288.0 550.1,288.5 550.6,291.4 551.1,288.6 551.6,289.8 552.1,288.4 552.6,292.4 553.1,287.6 553.6,292.7 554.1,284.2 554.6,288.1 555.1,286.6 555.6,293.0 556.1,290.6 556.6,286.6 557.1,288.3 557.6,293.8 558.1,289.4 558.6,291.2 559.1,285.1 559.6,284.9 560.1,291.1 560.6,296.5 561.1,287.7 561.6,291.1 562.1,286.4 562.6,293.2 563.1,288.0 563.6,288.1 564.1,283.6 564.6,288.3 565.1,290.2 565.6,294.1 566.1,286.3 566.6,293.1 567.1,289.1 567.6,289.4 568.1,287.5 568.6,285.3 569.1,287.0 569.6,295.9 570.1,287.3 570.6,289.8 571.1,294.6 571.6,284.7 572.1,292.7 572.6,289.8 573.1,292.0 573.6,294.2 574.1,291.0 574.6,290.9 575.1,293.7 575.6,293.4 576.1,289.2 576.6,290.8 577.1,287.1 577.6,295.3 578.1,287.4 578.6,291.8 579.1,296.6 579.6,293.6 580.1,290.2 580.6,288.8 581.1,289.2 581.6,294.0 582.1,292.3 582.6,291.3 583.1,299.5 583.6,288.8 584.1,290.0 584.6,290.5 585.1,292.5 585.6,292.9 586.1,291.3 586.6,294.6 587.1,294.1 587.6,291.6 588.1,285.0 588.6,295.3 589.1,289.9 589.6,291.0 590.1,292.7 590.6,289.3 591.1,290.7 591.6,293.5 592.1,292.2 592.6,294.3 593.1,290.6 593.6,292.6 594.1,290.0 594.6,292.4 595.1,294.2 595.6,292.5 596.1,288.7 596.6,292.6 597.1,293.6 597.6,296.7 598.1,293.0 598.6,291.8 599.1,289.4 599.6,299.5 600.1,290.2 600.6,289.7 601.1,292.8 601.6,287.6 602.1,296.9 602.6,294.2 603.1,295.3 603.6,290.8 604.1,292.4 604.6,296.9 605.1,297.2 605.6,303.5 606.1,298.1 606.6,288.7 607.1,295.2 607.6,293.9 608.1,298.6 608.6,295.0 609.1,296.9 609.6,294.4 610.1,297.5 610.6,300.3 611.1,293.7 611.6,289.2 612.1,292.4 612.6,300.7 613.1,296.4 613.6,294.8 614.1,292.6 614.6,299.0 615.1,296.6 615.6,295.3 616.1,293.9 616.6,295.2 617.1,294.7 617.6,297.5 618.1,299.8 618.6,289.5 619.1,291.2 619.6,295.6 620.1,296.2 620.6,291.1 621.1,294.2 621.6,295.0 622.1,295.0 622.6,295.0 623.1,296.4 623.6,299.6 624.1,299.3 624.6,299.0 625.1,298.1 625.6,295.1 626.1,295.9 626.6,299.8 627.1,298.1 627.6,300.4 628.1,298.8 628.6,298.2 629.1,299.5 629.6,293.1 630.1,297.6 630.6,296.3 631.1,300.9 631.6,296.0 632.1,299.0 632.6,296.8 633.1,299.8 633.6,300.5 634.1,297.5 634.6,298.5 635.1,298.8 635.6,300.7 636.1,297.2 636.6,298.4 637.1,296.9 637.6,295.2" fill="none" stroke="#111" stroke-width="2.2" stroke-linejoin="round" stroke-linecap="round"/><polyline points="330.6,195.4 331.1,195.6 331.6,195.8 332.1,196.0 332.6,196.2 333.1,196.4 333.6,196.5 334.1,196.7 334.6,197.2 335.1,197.6 335.6,198.0 336.1,198.4 336.6,198.8 337.1,199.1 337.6,199.5 338.1,199.8 338.6,200.2 339.1,200.8 339.6,201.8 340.1,203.0 340.6,204.2 341.1,205.6 341.6,207.0 342.1,208.4 342.6,209.8 343.1,211.2 343.6,212.4 344.1,213.5 344.6,214.4 345.1,215.0 345.6,215.4 346.1,215.7 346.6,215.8 347.1,216.0 347.6,216.2 348.1,216.4 348.6,216.7 349.1,217.2 349.6,217.8 350.1,218.5 350.6,219.3 351.1,220.2 351.6,221.3 352.1,222.5 352.6,223.8 353.1,225.1 353.6,226.4 354.1,227.6 354.6,228.8 355.1,229.8 355.6,230.6 356.1,231.2 356.6,231.5 357.1,231.7 357.6,231.9 358.1,231.9 358.6,231.9 359.1,231.9 359.6,231.8 360.1,231.7 360.6,231.6 361.1,231.6 361.6,231.5 362.1,231.6 362.6,231.7 363.1,231.8 363.6,232.1 364.1,232.5 364.6,232.9 365.1,233.5 365.6,234.1 366.1,234.9 366.6,235.7 367.1,236.5 367.6,237.4 368.1,238.3 368.6,239.2 369.1,240.0 369.6,240.8 370.1,241.6 370.6,242.2 371.1,242.8 371.6,243.3 372.1,243.7 372.6,243.9 373.1,244.0 373.6,244.0 374.1,244.0 374.6,243.8 375.1,243.7 375.6,243.5 376.1,243.3 376.6,243.1 377.1,242.9 377.6,242.7 378.1,242.6 378.6,242.6 379.1,242.6 379.6,242.7 380.1,242.9 380.6,243.2 381.1,243.6 381.6,244.1 382.1,244.6 382.6,245.3 383.1,245.9 383.6,246.7 384.1,247.4 384.6,248.2 385.1,249.0 385.6,249.7 386.1,250.4 386.6,251.1 387.1,251.6 387.6,252.1 388.1,252.6 388.6,252.9 389.1,253.1 389.6,253.3 390.1,253.3 390.6,253.3 391.1,253.2 391.6,253.0 392.1,252.8 392.6,252.6 393.1,252.3 393.6,252.1 394.1,251.8 394.6,251.6 395.1,251.4 395.6,251.3 396.1,251.2 396.6,251.2 397.1,251.3 397.6,251.4 398.1,251.6 398.6,251.9 399.1,252.2 399.6,252.7 400.1,253.2 400.6,253.7 401.1,254.2 401.6,254.8 402.1,255.5 402.6,256.1 403.1,256.7 403.6,257.3 404.1,257.9 404.6,258.4 405.1,258.9 405.6,259.3 406.1,259.7 406.6,260.0 407.1,260.1 407.6,260.3 408.1,260.3 408.6,260.2 409.1,260.1 409.6,259.9 410.1,259.7 410.6,259.4 411.1,259.1 411.6,258.8 412.1,258.5 412.6,258.3 413.1,258.0 413.6,257.8 414.1,257.7 414.6,257.7 415.1,257.7 415.6,257.8 416.1,258.0 416.6,258.3 417.1,258.6 417.6,259.1 418.1,259.6 418.6,260.1 419.1,260.7 419.6,261.4 420.1,262.0 420.6,262.6 421.1,263.2 421.6,263.8 422.1,264.3 422.6,264.8 423.1,265.2 423.6,265.5 424.1,265.8 424.6,265.9 425.1,266.0 425.6,266.0 426.1,266.0 426.6,265.8 427.1,265.7 427.6,265.5 428.1,265.2 428.6,264.9 429.1,264.6 429.6,264.3 430.1,264.0 430.6,263.7 431.1,263.5 431.6,263.3 432.1,263.1 432.6,263.0 433.1,263.0 433.6,263.0 434.1,263.2 434.6,263.4 435.1,263.7 435.6,264.1 436.1,264.5 436.6,265.0 437.1,265.5 437.6,266.1 438.1,266.6 438.6,267.3 439.1,267.9 439.6,268.5 440.1,269.1 440.6,269.6 441.1,270.2 441.6,270.6 442.1,271.1 442.6,271.4 443.1,271.7 443.6,271.9 444.1,272.0 444.6,272.1 445.1,272.0 445.6,271.9 446.1,271.7 446.6,271.4 447.1,271.1 447.6,270.7 448.1,270.4 448.6,270.0 449.1,269.7 449.6,269.4 450.1,269.2 450.6,269.1 451.1,269.1 451.6,269.1 452.1,269.2 452.6,269.5 453.1,269.8 453.6,270.2 454.1,270.7 454.6,271.2 455.1,271.8 455.6,272.4 456.1,273.1 456.6,273.7 457.1,274.3 457.6,274.9 458.1,275.4 458.6,275.9 459.1,276.3 459.6,276.6 460.1,276.8 460.6,276.9 461.1,276.9 461.6,276.9 462.1,276.8 462.6,276.6 463.1,276.4 463.6,276.2 464.1,275.9 464.6,275.6 465.1,275.3 465.6,274.9 466.1,274.6 466.6,274.4 467.1,274.1 467.6,274.0 468.1,273.9 468.6,273.8 469.1,273.9 469.6,274.0 470.1,274.2 470.6,274.4 471.1,274.8 471.6,275.2 472.1,275.6 472.6,276.1 473.1,276.6 473.6,277.1 474.1,277.7 474.6,278.2 475.1,278.7 475.6,279.2 476.1,279.6 476.6,280.0 477.1,280.3 477.6,280.5 478.1,280.7 478.6,280.8 479.1,280.8 479.6,280.8 480.1,280.7 480.6,280.5 481.1,280.3 481.6,280.1 482.1,279.8 482.6,279.6 483.1,279.3 483.6,279.0 484.1,278.7 484.6,278.4 485.1,278.2 485.6,278.0 486.1,277.8 486.6,277.7 487.1,277.6 487.6,277.6 488.1,277.7 488.6,277.8 489.1,278.0 489.6,278.3 490.1,278.6 490.6,279.0 491.1,279.4 491.6,279.8 492.1,280.3 492.6,280.7 493.1,281.2 493.6,281.7 494.1,282.2 494.6,282.6 495.1,283.1 495.6,283.4 496.1,283.8 496.6,284.1 497.1,284.3 497.6,284.5 498.1,284.6 498.6,284.6 499.1,284.6 499.6,284.5 500.1,284.3 500.6,284.1 501.1,283.9 501.6,283.6 502.1,283.3 502.6,283.0 503.1,282.7 503.6,282.4 504.1,282.1 504.6,281.9 505.1,281.7 505.6,281.5 506.1,281.5 506.6,281.4 507.1,281.5 507.6,281.6 508.1,281.7 508.6,281.9 509.1,282.2 509.6,282.5 510.1,282.9 510.6,283.3 511.1,283.7 511.6,284.2 512.1,284.6 512.6,285.0 513.1,285.5 513.6,285.8 514.1,286.2 514.6,286.5 515.1,286.8 515.6,287.0 516.1,287.1 516.6,287.2 517.1,287.3 517.6,287.2 518.1,287.2 518.6,287.1 519.1,286.9 519.6,286.7 520.1,286.5 520.6,286.2 521.1,286.0 521.6,285.7 522.1,285.4 522.6,285.2 523.1,284.9 523.6,284.8 524.1,284.6 524.6,284.5 525.1,284.5 525.6,284.5 526.1,284.5 526.6,284.6 527.1,284.8 527.6,285.0 528.1,285.3 528.6,285.5 529.1,285.9 529.6,286.2 530.1,286.6 530.6,286.9 531.1,287.3 531.6,287.6 532.1,287.9 532.6,288.2 533.1,288.4 533.6,288.7 534.1,288.8 534.6,289.0 535.1,289.0 535.6,289.1 536.1,289.1 536.6,289.0 537.1,288.9 537.6,288.8 538.1,288.7 538.6,288.5 539.1,288.3 539.6,288.1 540.1,288.0 540.6,287.8 541.1,287.7 541.6,287.6 542.1,287.5 542.6,287.4 543.1,287.4 543.6,287.4 544.1,287.5 544.6,287.6 545.1,287.7 545.6,287.8 546.1,288.0 546.6,288.2 547.1,288.4 547.6,288.7 548.1,288.9 548.6,289.2 549.1,289.4 549.6,289.7 550.1,289.9 550.6,290.2 551.1,290.4 551.6,290.6 552.1,290.8 552.6,290.9 553.1,291.0 553.6,291.1 554.1,291.2 554.6,291.2 555.1,291.2 555.6,291.2 556.1,291.2 556.6,291.2 557.1,291.1 557.6,291.1 558.1,291.0 558.6,291.0 559.1,291.0 559.6,291.0 560.1,290.9 560.6,290.9 561.1,290.9 561.6,290.9 562.1,291.0 562.6,291.0 563.1,291.1 563.6,291.2 564.1,291.2 564.6,291.4 565.1,291.5 565.6,291.6 566.1,291.8 566.6,291.9 567.1,292.1 567.6,292.3 568.1,292.4 568.6,292.6 569.1,292.8 569.6,292.9 570.1,293.1 570.6,293.2 571.1,293.3 571.6,293.4 572.1,293.5 572.6,293.6 573.1,293.7 573.6,293.7 574.1,293.7 574.6,293.8 575.1,293.8 575.6,293.8 576.1,293.7 576.6,293.7 577.1,293.7 577.6,293.7 578.1,293.7 578.6,293.6 579.1,293.6 579.6,293.6 580.1,293.6 580.6,293.6 581.1,293.7 581.6,293.7 582.1,293.8 582.6,293.9 583.1,294.0 583.6,294.1 584.1,294.2 584.6,294.3 585.1,294.5 585.6,294.7 586.1,294.8 586.6,295.0 587.1,295.2 587.6,295.3 588.1,295.5 588.6,295.6 589.1,295.8 589.6,295.9 590.1,296.1 590.6,296.2 591.1,296.3 591.6,296.3 592.1,296.4 592.6,296.5 593.1,296.5 593.6,296.5 594.1,296.5 594.6,296.5 595.1,296.5 595.6,296.5 596.1,296.5 596.6,296.5 597.1,296.5 597.6,296.5 598.1,296.5 598.6,296.6 599.1,296.6 599.6,296.6 600.1,296.7 600.6,296.7 601.1,296.8 601.6,296.9 602.1,297.0 602.6,297.1 603.1,297.2 603.6,297.3 604.1,297.5 604.6,297.6 605.1,297.8 605.6,297.9 606.1,298.1 606.6,298.2 607.1,298.4 607.6,298.5 608.1,298.6 608.6,298.7 609.1,298.8 609.6,298.9 610.1,299.0 610.6,299.1 611.1,299.1 611.6,299.1 612.1,299.2 612.6,299.2 613.1,299.2 613.6,299.2 614.1,299.2 614.6,299.2 615.1,299.2 615.6,299.2 616.1,299.2 616.6,299.2 617.1,299.2 617.6,299.2 618.1,299.2 618.6,299.3 619.1,299.3 619.6,299.4 620.1,299.5 620.6,299.6 621.1,299.7 621.6,299.8 622.1,299.9 622.6,300.1 623.1,300.2 623.6,300.4 624.1,300.5 624.6,300.6 625.1,300.8 625.6,300.9 626.1,301.1 626.6,301.2 627.1,301.3 627.6,301.4 628.1,301.5 628.6,301.6 629.1,301.6 629.6,301.7 630.1,301.8 630.6,301.8 631.1,301.8 631.6,301.8 632.1,301.8 632.6,301.8 633.1,301.8 633.6,301.9 634.1,301.9 634.6,301.9 635.1,301.9 635.6,301.9 636.1,301.9 636.6,301.9 637.1,302.0 637.6,302.0" fill="none" stroke="#d81418" stroke-width="2.2" stroke-linejoin="round" stroke-linecap="round"/><polyline points="330.6,340.9 331.1,340.9 331.6,341.0 332.1,341.2 332.6,341.5 333.1,341.7 333.6,341.8 334.1,342.4 334.6,343.1 335.1,343.9 335.6,344.8 336.1,346.2 336.6,347.9 337.1,349.5 337.6,351.1 338.1,352.1 338.6,353.2 339.1,354.1 339.6,354.8 340.1,355.6 340.6,356.5 341.1,357.5 341.6,358.6 342.1,359.9 342.6,361.3 343.1,362.6 343.6,364.1 344.1,365.7 344.6,367.3 345.1,368.7 345.6,369.7 346.1,370.4 346.6,370.8 347.1,370.9 347.6,370.7 348.1,370.6 348.6,370.7 349.1,370.9 349.6,371.6 350.1,372.5 350.6,373.7 351.1,375.2 351.6,376.8 352.1,378.3 352.6,379.7 353.1,380.8 353.6,381.6 354.1,382.0 354.6,382.1 355.1,382.1 355.6,382.0 356.1,381.8 356.6,381.6 357.1,381.6 357.6,381.7 358.1,382.1 358.6,382.8 359.1,383.8 359.6,384.9 360.1,386.2 360.6,387.6 361.1,388.9 361.6,390.2 362.1,391.4 362.6,392.3 363.1,393.1 363.6,393.6 364.1,393.9 364.6,394.0 365.1,394.0 365.6,393.8 366.1,393.6 366.6,393.5 367.1,393.5 367.6,393.8 368.1,394.2 368.6,394.9 369.1,395.9 369.6,396.9 370.1,398.1 370.6,399.3 371.1,400.5 371.6,401.6 372.1,402.4 372.6,403.0 373.1,403.3 373.6,403.5 374.1,403.6 374.6,403.5 375.1,403.3 375.6,403.1 376.1,402.9 376.6,402.7 377.1,402.7 377.6,402.8 378.1,403.1 378.6,403.5 379.1,404.1 379.6,404.9 380.1,405.8 380.6,406.7 381.1,407.7 381.6,408.6 382.1,409.5 382.6,410.3 383.1,411.0 383.6,411.5 384.1,411.8 384.6,412.1 385.1,412.1 385.6,412.1 386.1,412.0 386.6,411.9 387.1,411.7 387.6,411.5 388.1,411.3 388.6,411.3 389.1,411.3 389.6,411.4 390.1,411.7 390.6,412.1 391.1,412.7 391.6,413.3 392.1,414.1 392.6,414.9 393.1,415.8 393.6,416.7 394.1,417.6 394.6,418.5 395.1,419.3 395.6,420.0 396.1,420.6 396.6,421.1 397.1,421.4 397.6,421.5 398.1,421.5 398.6,421.4 399.1,421.2 399.6,420.9 400.1,420.7 400.6,420.5 401.1,420.3 401.6,420.3 402.1,420.4 402.6,420.7 403.1,421.2 403.6,421.8 404.1,422.5 404.6,423.3 405.1,424.2 405.6,425.1 406.1,426.0 406.6,426.9 407.1,427.6 407.6,428.3 408.1,428.7 408.6,429.0 409.1,429.2 409.6,429.2 410.1,429.1 410.6,428.9 411.1,428.6 411.6,428.4 412.1,428.1 412.6,428.0 413.1,427.9 413.6,428.0 414.1,428.3 414.6,428.7 415.1,429.3 415.6,430.0 416.1,430.8 416.6,431.7 417.1,432.6 417.6,433.5 418.1,434.3 418.6,435.0 419.1,435.6 419.6,436.1 420.1,436.4 420.6,436.5 421.1,436.5 421.6,436.4 422.1,436.2 422.6,435.9 423.1,435.6 423.6,435.3 424.1,435.0 424.6,434.8 425.1,434.7 425.6,434.8 426.1,434.9 426.6,435.2 427.1,435.6 427.6,436.2 428.1,436.9 428.6,437.6 429.1,438.4 429.6,439.1 430.1,439.7 430.6,440.4 431.1,440.9 431.6,441.3 432.1,441.7 432.6,441.8 433.1,441.8 433.6,441.7 434.1,441.5 434.6,441.2 435.1,440.9 435.6,440.5 436.1,440.1 436.6,439.7 437.1,439.4 437.6,439.3 438.1,439.2 438.6,439.3 439.1,439.5 439.6,439.8 440.1,440.3 440.6,440.9 441.1,441.5 441.6,442.2 442.1,442.9 442.6,443.6 443.1,444.3 443.6,444.8 444.1,445.3 444.6,445.6 445.1,445.8 445.6,445.8 446.1,445.7 446.6,445.4 447.1,445.1 447.6,444.7 448.1,444.3 448.6,443.9 449.1,443.5 449.6,443.3 450.1,443.2 450.6,443.3 451.1,443.5 451.6,443.9 452.1,444.4 452.6,445.0 453.1,445.7 453.6,446.5 454.1,447.3 454.6,448.0 455.1,448.7 455.6,449.2 456.1,449.6 456.6,449.9 457.1,450.0 457.6,449.9 458.1,449.8 458.6,449.5 459.1,449.2 459.6,448.8 460.1,448.5 460.6,448.2 461.1,447.9 461.6,447.7 462.1,447.7 462.6,447.8 463.1,448.0 463.6,448.4 464.1,448.8 464.6,449.4 465.1,450.1 465.6,450.8 466.1,451.5 466.6,452.2 467.1,452.8 467.6,453.3 468.1,453.8 468.6,454.1 469.1,454.3 469.6,454.3 470.1,454.1 470.6,453.9 471.1,453.5 471.6,453.1 472.1,452.6 472.6,452.2 473.1,451.8 473.6,451.5 474.1,451.3 474.6,451.3 475.1,451.5 475.6,451.8 476.1,452.2 476.6,452.8 477.1,453.5 477.6,454.2 478.1,455.0 478.6,455.7 479.1,456.3 479.6,456.9 480.1,457.3 480.6,457.5 481.1,457.6 481.6,457.5 482.1,457.3 482.6,457.0 483.1,456.6 483.6,456.1 484.1,455.7 484.6,455.3 485.1,455.0 485.6,454.9 486.1,454.9 486.6,455.0 487.1,455.4 487.6,455.8 488.1,456.4 488.6,457.1 489.1,457.9 489.6,458.6 490.1,459.3 490.6,459.9 491.1,460.4 491.6,460.8 492.1,461.0 492.6,461.0 493.1,461.0 493.6,460.8 494.1,460.6 494.6,460.3 495.1,459.9 495.6,459.5 496.1,459.1 496.6,458.8 497.1,458.5 497.6,458.3 498.1,458.2 498.6,458.2 499.1,458.3 499.6,458.6 500.1,458.9 500.6,459.4 501.1,459.9 501.6,460.5 502.1,461.1 502.6,461.8 503.1,462.5 503.6,463.1 504.1,463.6 504.6,464.1 505.1,464.4 505.6,464.7 506.1,464.8 506.6,464.8 507.1,464.6 507.6,464.4 508.1,464.0 508.6,463.7 509.1,463.3 509.6,462.9 510.1,462.6 510.6,462.4 511.1,462.4 511.6,462.4 512.1,462.6 512.6,462.9 513.1,463.3 513.6,463.9 514.1,464.5 514.6,465.2 515.1,465.9 515.6,466.6 516.1,467.1 516.6,467.7 517.1,468.1 517.6,468.4 518.1,468.5 518.6,468.5 519.1,468.4 519.6,468.1 520.1,467.7 520.6,467.2 521.1,466.7 521.6,466.2 522.1,465.7 522.6,465.4 523.1,465.2 523.6,465.2 524.1,465.3 524.6,465.6 525.1,466.1 525.6,466.7 526.1,467.3 526.6,468.1 527.1,468.9 527.6,469.6 528.1,470.2 528.6,470.7 529.1,471.1 529.6,471.2 530.1,471.3 530.6,471.2 531.1,471.0 531.6,470.7 532.1,470.3 532.6,470.0 533.1,469.6 533.6,469.3 534.1,469.1 534.6,469.0 535.1,469.0 535.6,469.1 536.1,469.4 536.6,469.8 537.1,470.3 537.6,470.9 538.1,471.6 538.6,472.4 539.1,473.1 539.6,473.8 540.1,474.4 540.6,475.0 541.1,475.4 541.6,475.7 542.1,475.9 542.6,475.9 543.1,475.8 543.6,475.6 544.1,475.3 544.6,475.0 545.1,474.6 545.6,474.2 546.1,473.9 546.6,473.7 547.1,473.6 547.6,473.5 548.1,473.7 548.6,473.9 549.1,474.3 549.6,474.8 550.1,475.5 550.6,476.1 551.1,476.9 551.6,477.5 552.1,478.2 552.6,478.8 553.1,479.3 553.6,479.6 554.1,479.9 554.6,480.0 555.1,480.0 555.6,479.8 556.1,479.6 556.6,479.2 557.1,478.8 557.6,478.4 558.1,478.0 558.6,477.6 559.1,477.3 559.6,477.1 560.1,477.1 560.6,477.1 561.1,477.3 561.6,477.6 562.1,478.1 562.6,478.6 563.1,479.2 563.6,479.8 564.1,480.5 564.6,481.1 565.1,481.6 565.6,482.0 566.1,482.4 566.6,482.6 567.1,482.7 567.6,482.6 568.1,482.5 568.6,482.2 569.1,481.9 569.6,481.5 570.1,481.1 570.6,480.8 571.1,480.5 571.6,480.2 572.1,480.0 572.6,480.0 573.1,480.1 573.6,480.2 574.1,480.5 574.6,480.9 575.1,481.4 575.6,481.9 576.1,482.4 576.6,482.9 577.1,483.4 577.6,483.8 578.1,484.2 578.6,484.5 579.1,484.7 579.6,484.7 580.1,484.7 580.6,484.5 581.1,484.3 581.6,484.0 582.1,483.7 582.6,483.4 583.1,483.1 583.6,482.8 584.1,482.5 584.6,482.4 585.1,482.5 585.6,482.6 586.1,482.1 586.6,482.8 587.1,482.1 587.6,484.5 588.1,485.2 588.6,484.1 589.1,484.9 589.6,485.0 590.1,485.8 590.6,485.3 591.1,484.9 591.6,486.5 592.1,485.4 592.6,486.2 593.1,485.3 593.6,485.2 594.1,486.0 594.6,486.0 595.1,484.7 595.6,484.2 596.1,484.4 596.6,483.7 597.1,482.9 597.6,483.8 598.1,482.5 598.6,484.2 599.1,483.8 599.6,484.4 600.1,483.7 600.6,484.5 601.1,485.7 601.6,486.5 602.1,486.5 602.6,486.6 603.1,486.0 603.6,487.2 604.1,487.0 604.6,486.8 605.1,487.8 605.6,486.5 606.1,487.9 606.6,486.3 607.1,486.2 607.6,486.4 608.1,485.5 608.6,485.9 609.1,486.2 609.6,485.1 610.1,485.6 610.6,485.4 611.1,486.1 611.6,487.2 612.1,486.5 612.6,487.0 613.1,487.6 613.6,487.1 614.1,488.2 614.6,488.1 615.1,488.2 615.6,487.8 616.1,488.6 616.6,489.7 617.1,489.8 617.6,488.9 618.1,489.1 618.6,488.6 619.1,488.0 619.6,487.4 620.1,489.3 620.6,487.5 621.1,488.1 621.6,488.7 622.1,487.4 622.6,487.5 623.1,487.8 623.6,487.5 624.1,488.0 624.6,487.8 625.1,488.9 625.6,488.7 626.1,488.0 626.6,488.1 627.1,488.8 627.6,489.0 628.1,489.1 628.6,490.3 629.1,489.4 629.6,489.6 630.1,489.9 630.6,488.5 631.1,489.9 631.6,489.8 632.1,490.2 632.6,488.6 633.1,488.7 633.6,489.0 634.1,488.5 634.6,487.8 635.1,489.1 635.6,488.4 636.1,488.9 636.6,488.1 637.1,489.5 637.6,488.9" fill="none" stroke="#111" stroke-width="2.8" stroke-linejoin="round" stroke-linecap="round"/><polyline points="330.6,343.3 331.1,343.5 331.6,343.7 332.1,344.1 332.6,344.5 333.1,345.0 333.6,345.5 334.1,346.7 334.6,347.8 335.1,349.0 335.6,350.4 336.1,352.3 336.6,354.2 337.1,356.1 337.6,357.9 338.1,359.2 338.6,360.5 339.1,361.6 339.6,362.6 340.1,363.6 340.6,364.5 341.1,365.5 341.6,366.6 342.1,367.9 342.6,369.3 343.1,370.6 343.6,372.1 344.1,373.7 344.6,375.2 345.1,376.5 345.6,377.4 346.1,378.0 346.6,378.3 347.1,378.3 347.6,378.1 348.1,377.9 348.6,377.8 349.1,378.0 349.6,378.5 350.1,379.4 350.6,380.5 351.1,381.9 351.6,383.3 352.1,384.8 352.6,386.1 353.1,387.1 353.6,387.8 354.1,388.1 354.6,388.1 355.1,388.0 355.6,387.8 356.1,387.5 356.6,387.3 357.1,387.1 357.6,387.2 358.1,387.4 358.6,388.1 359.1,388.9 359.6,390.0 360.1,391.2 360.6,392.5 361.1,393.8 361.6,395.1 362.1,396.2 362.6,397.2 363.1,397.9 363.6,398.4 364.1,398.7 364.6,398.7 365.1,398.7 365.6,398.4 366.1,398.2 366.6,398.0 367.1,398.0 367.6,398.3 368.1,398.7 368.6,399.4 369.1,400.3 369.6,401.3 370.1,402.4 370.6,403.6 371.1,404.8 371.6,405.8 372.1,406.6 372.6,407.1 373.1,407.5 373.6,407.6 374.1,407.6 374.6,407.5 375.1,407.3 375.6,407.0 376.1,406.8 376.6,406.6 377.1,406.6 377.6,406.6 378.1,406.9 378.6,407.3 379.1,407.9 379.6,408.6 380.1,409.5 380.6,410.4 381.1,411.3 381.6,412.2 382.1,413.1 382.6,413.8 383.1,414.5 383.6,414.9 384.1,415.2 384.6,415.4 385.1,415.5 385.6,415.4 386.1,415.3 386.6,415.1 387.1,414.9 387.6,414.6 388.1,414.5 388.6,414.4 389.1,414.4 389.6,414.5 390.1,414.7 390.6,415.1 391.1,415.6 391.6,416.2 392.1,416.9 392.6,417.7 393.1,418.5 393.6,419.4 394.1,420.2 394.6,421.0 395.1,421.8 395.6,422.5 396.1,423.0 396.6,423.4 397.1,423.7 397.6,423.8 398.1,423.7 398.6,423.5 399.1,423.3 399.6,423.0 400.1,422.7 400.6,422.4 401.1,422.2 401.6,422.1 402.1,422.2 402.6,422.5 403.1,422.8 403.6,423.4 404.1,424.1 404.6,424.9 405.1,425.7 405.6,426.6 406.1,427.4 406.6,428.2 407.1,428.9 407.6,429.5 408.1,429.9 408.6,430.2 409.1,430.3 409.6,430.2 410.1,430.1 410.6,429.8 411.1,429.5 411.6,429.2 412.1,428.9 412.6,428.7 413.1,428.6 413.6,428.7 414.1,428.9 414.6,429.2 415.1,429.8 415.6,430.4 416.1,431.2 416.6,432.0 417.1,432.9 417.6,433.7 418.1,434.5 418.6,435.2 419.1,435.7 419.6,436.1 420.1,436.4 420.6,436.5 421.1,436.5 421.6,436.4 422.1,436.2 422.6,435.9 423.1,435.6 423.6,435.3 424.1,435.0 424.6,434.8 425.1,434.7 425.6,434.7 426.1,434.9 426.6,435.2 427.1,435.6 427.6,436.2 428.1,436.8 428.6,437.6 429.1,438.3 429.6,439.0 430.1,439.7 430.6,440.3 431.1,440.9 431.6,441.3 432.1,441.6 432.6,441.8 433.1,441.8 433.6,441.7 434.1,441.5 434.6,441.2 435.1,440.8 435.6,440.4 436.1,440.0 436.6,439.7 437.1,439.4 437.6,439.2 438.1,439.1 438.6,439.2 439.1,439.4 439.6,439.8 440.1,440.2 440.6,440.8 441.1,441.4 441.6,442.1 442.1,442.9 442.6,443.6 443.1,444.2 443.6,444.8 444.1,445.2 444.6,445.5 445.1,445.7 445.6,445.7 446.1,445.6 446.6,445.4 447.1,445.0 447.6,444.6 448.1,444.2 448.6,443.8 449.1,443.5 449.6,443.2 450.1,443.1 450.6,443.2 451.1,443.4 451.6,443.8 452.1,444.3 452.6,444.9 453.1,445.6 453.6,446.4 454.1,447.2 454.6,447.9 455.1,448.6 455.6,449.1 456.1,449.5 456.6,449.8 457.1,449.9 457.6,449.8 458.1,449.7 458.6,449.4 459.1,449.1 459.6,448.7 460.1,448.4 460.6,448.1 461.1,447.8 461.6,447.6 462.1,447.6 462.6,447.7 463.1,447.9 463.6,448.2 464.1,448.7 464.6,449.3 465.1,450.0 465.6,450.7 466.1,451.4 466.6,452.0 467.1,452.7 467.6,453.2 468.1,453.6 468.6,453.9 469.1,454.1 469.6,454.1 470.1,454.0 470.6,453.7 471.1,453.4 471.6,452.9 472.1,452.5 472.6,452.0 473.1,451.6 473.6,451.4 474.1,451.2 474.6,451.2 475.1,451.3 475.6,451.6 476.1,452.1 476.6,452.7 477.1,453.3 477.6,454.1 478.1,454.8 478.6,455.5 479.1,456.2 479.6,456.7 480.1,457.1 480.6,457.3 481.1,457.4 481.6,457.3 482.1,457.1 482.6,456.8 483.1,456.4 483.6,455.9 484.1,455.5 484.6,455.1 485.1,454.9 485.6,454.7 486.1,454.7 486.6,454.9 487.1,455.2 487.6,455.7 488.1,456.2 488.6,456.9 489.1,457.7 489.6,458.4 490.1,459.1 490.6,459.7 491.1,460.2 491.6,460.6 492.1,460.8 492.6,460.8 493.1,460.8 493.6,460.6 494.1,460.4 494.6,460.0 495.1,459.7 495.6,459.3 496.1,458.9 496.6,458.6 497.1,458.3 497.6,458.1 498.1,458.0 498.6,458.0 499.1,458.1 499.6,458.3 500.1,458.7 500.6,459.1 501.1,459.7 501.6,460.3 502.1,460.9 502.6,461.6 503.1,462.3 503.6,462.9 504.1,463.4 504.6,463.9 505.1,464.2 505.6,464.4 506.1,464.6 506.6,464.5 507.1,464.4 507.6,464.1 508.1,463.8 508.6,463.4 509.1,463.0 509.6,462.7 510.1,462.4 510.6,462.2 511.1,462.1 511.6,462.1 512.1,462.3 512.6,462.6 513.1,463.1 513.6,463.6 514.1,464.3 514.6,464.9 515.1,465.7 515.6,466.3 516.1,466.9 516.6,467.4 517.1,467.8 517.6,468.1 518.1,468.3 518.6,468.3 519.1,468.1 519.6,467.8 520.1,467.4 520.6,466.9 521.1,466.4 521.6,465.9 522.1,465.4 522.6,465.1 523.1,464.9 523.6,464.9 524.1,465.0 524.6,465.3 525.1,465.8 525.6,466.4 526.1,467.1 526.6,467.8 527.1,468.6 527.6,469.3 528.1,469.9 528.6,470.4 529.1,470.8 529.6,470.9 530.1,471.0 530.6,470.9 531.1,470.6 531.6,470.3 532.1,470.0 532.6,469.6 533.1,469.3 533.6,469.0 534.1,468.7 534.6,468.6 535.1,468.6 535.6,468.7 536.1,469.0 536.6,469.4 537.1,469.9 537.6,470.5 538.1,471.2 538.6,471.9 539.1,472.6 539.6,473.3 540.1,473.9 540.6,474.5 541.1,474.9 541.6,475.2 542.1,475.3 542.6,475.4 543.1,475.3 543.6,475.0 544.1,474.7 544.6,474.4 545.1,474.0 545.6,473.6 546.1,473.3 546.6,473.1 547.1,472.9 547.6,472.9 548.1,473.0 548.6,473.3 549.1,473.7 549.6,474.2 550.1,474.8 550.6,475.4 551.1,476.1 551.6,476.8 552.1,477.4 552.6,478.0 553.1,478.5 553.6,478.9 554.1,479.1 554.6,479.2 555.1,479.2 555.6,479.0 556.1,478.7 556.6,478.4 557.1,478.0 557.6,477.5 558.1,477.1 558.6,476.7 559.1,476.4 559.6,476.2 560.1,476.2 560.6,476.2 561.1,476.5 561.6,476.8 562.1,477.2 562.6,477.8 563.1,478.4 563.6,479.0 564.1,479.7 564.6,480.3 565.1,480.8 565.6,481.3 566.1,481.7 566.6,481.9 567.1,482.0 567.6,481.9 568.1,481.8 568.6,481.6 569.1,481.3 569.6,480.9 570.1,480.5 570.6,480.2 571.1,479.9 571.6,479.7 572.1,479.5 572.6,479.5 573.1,479.5 573.6,479.7 574.1,480.0 574.6,480.4 575.1,480.9 575.6,481.4 576.1,482.0 576.6,482.5 577.1,483.0 577.6,483.5 578.1,483.8 578.6,484.1 579.1,484.3 579.6,484.4 580.1,484.4 580.6,484.3 581.1,484.1 581.6,483.8 582.1,483.5 582.6,483.2 583.1,482.8 583.6,482.6 584.1,482.3 584.6,482.2 585.1,482.1 585.6,482.2 586.1,482.3 586.6,482.6 587.1,482.9 587.6,483.2 588.1,483.7 588.6,484.1 589.1,484.6 589.6,485.0 590.1,485.4 590.6,485.7 591.1,486.0 591.6,486.2 592.1,486.3 592.6,486.3 593.1,486.2 593.6,486.0 594.1,485.8 594.6,485.6 595.1,485.3 595.6,485.1 596.1,484.9 596.6,484.7 597.1,484.6 597.6,484.6 598.1,484.7 598.6,484.8 599.1,485.0 599.6,485.3 600.1,485.7 600.6,486.1 601.1,486.5 601.6,486.9 602.1,487.3 602.6,487.7 603.1,488.0 603.6,488.2 604.1,488.4 604.6,488.5 605.1,488.6 605.6,488.6 606.1,488.5 606.6,488.4 607.1,488.3 607.6,488.2 608.1,488.2 608.6,488.1 609.1,488.1 609.6,488.1 610.1,488.2 610.6,488.4 611.1,488.6 611.6,488.9 612.1,489.2 612.6,489.6 613.1,490.0 613.6,490.5 614.1,490.9 614.6,491.3 615.1,491.6 615.6,491.9 616.1,492.1 616.6,492.3 617.1,492.4 617.6,492.5 618.1,492.5 618.6,492.5 619.1,492.4 619.6,492.3 620.1,492.2 620.6,492.0 621.1,491.9 621.6,491.9 622.1,491.9 622.6,491.9 623.1,492.0 623.6,492.2 624.1,492.4 624.6,492.6 625.1,492.9 625.6,493.2 626.1,493.6 626.6,493.9 627.1,494.3 627.6,494.6 628.1,494.8 628.6,495.1 629.1,495.2 629.6,495.3 630.1,495.4 630.6,495.4 631.1,495.4 631.6,495.4 632.1,495.3 632.6,495.2 633.1,495.1 633.6,495.1 634.1,495.0 634.6,495.0 635.1,495.1 635.6,495.2 636.1,495.3 636.6,495.5 637.1,495.7 637.6,496.0" fill="none" stroke="#e0141c" stroke-width="2.7" stroke-linejoin="round" stroke-linecap="round"/></g><rect x="330.3" y="3.8" width="307.99999999999994" height="516.2" fill="none" stroke="#000" stroke-width="2"/><line x1="330.3" y1="172.9" x2="638.3" y2="172.9" stroke="#000" stroke-width="2"/><line x1="330.3" y1="337.9" x2="638.3" y2="337.9" stroke="#000" stroke-width="2"/><line x1="352.8" y1="172.9" x2="352.8" y2="167.9" stroke="#000" stroke-width="1.5"/><line x1="376.7" y1="172.9" x2="376.7" y2="169.9" stroke="#000" stroke-width="1.5"/><line x1="400.5" y1="172.9" x2="400.5" y2="167.9" stroke="#000" stroke-width="1.5"/><line x1="424.4" y1="172.9" x2="424.4" y2="169.9" stroke="#000" stroke-width="1.5"/><line x1="448.3" y1="172.9" x2="448.3" y2="167.9" stroke="#000" stroke-width="1.5"/><line x1="472.1" y1="172.9" x2="472.1" y2="169.9" stroke="#000" stroke-width="1.5"/><line x1="496.0" y1="172.9" x2="496.0" y2="167.9" stroke="#000" stroke-width="1.5"/><line x1="519.9" y1="172.9" x2="519.9" y2="169.9" stroke="#000" stroke-width="1.5"/><line x1="543.7" y1="172.9" x2="543.7" y2="167.9" stroke="#000" stroke-width="1.5"/><line x1="567.6" y1="172.9" x2="567.6" y2="169.9" stroke="#000" stroke-width="1.5"/><line x1="591.5" y1="172.9" x2="591.5" y2="167.9" stroke="#000" stroke-width="1.5"/><line x1="615.3" y1="172.9" x2="615.3" y2="169.9" stroke="#000" stroke-width="1.5"/><line x1="352.8" y1="337.9" x2="352.8" y2="332.9" stroke="#000" stroke-width="1.5"/><line x1="376.7" y1="337.9" x2="376.7" y2="334.9" stroke="#000" stroke-width="1.5"/><line x1="400.5" y1="337.9" x2="400.5" y2="332.9" stroke="#000" stroke-width="1.5"/><line x1="424.4" y1="337.9" x2="424.4" y2="334.9" stroke="#000" stroke-width="1.5"/><line x1="448.3" y1="337.9" x2="448.3" y2="332.9" stroke="#000" stroke-width="1.5"/><line x1="472.1" y1="337.9" x2="472.1" y2="334.9" stroke="#000" stroke-width="1.5"/><line x1="496.0" y1="337.9" x2="496.0" y2="332.9" stroke="#000" stroke-width="1.5"/><line x1="519.9" y1="337.9" x2="519.9" y2="334.9" stroke="#000" stroke-width="1.5"/><line x1="543.7" y1="337.9" x2="543.7" y2="332.9" stroke="#000" stroke-width="1.5"/><line x1="567.6" y1="337.9" x2="567.6" y2="334.9" stroke="#000" stroke-width="1.5"/><line x1="591.5" y1="337.9" x2="591.5" y2="332.9" stroke="#000" stroke-width="1.5"/><line x1="615.3" y1="337.9" x2="615.3" y2="334.9" stroke="#000" stroke-width="1.5"/><line x1="352.8" y1="520.0" x2="352.8" y2="515.0" stroke="#000" stroke-width="1.5"/><line x1="376.7" y1="520.0" x2="376.7" y2="517.0" stroke="#000" stroke-width="1.5"/><line x1="400.5" y1="520.0" x2="400.5" y2="515.0" stroke="#000" stroke-width="1.5"/><line x1="424.4" y1="520.0" x2="424.4" y2="517.0" stroke="#000" stroke-width="1.5"/><line x1="448.3" y1="520.0" x2="448.3" y2="515.0" stroke="#000" stroke-width="1.5"/><line x1="472.1" y1="520.0" x2="472.1" y2="517.0" stroke="#000" stroke-width="1.5"/><line x1="496.0" y1="520.0" x2="496.0" y2="515.0" stroke="#000" stroke-width="1.5"/><line x1="519.9" y1="520.0" x2="519.9" y2="517.0" stroke="#000" stroke-width="1.5"/><line x1="543.7" y1="520.0" x2="543.7" y2="515.0" stroke="#000" stroke-width="1.5"/><line x1="567.6" y1="520.0" x2="567.6" y2="517.0" stroke="#000" stroke-width="1.5"/><line x1="591.5" y1="520.0" x2="591.5" y2="515.0" stroke="#000" stroke-width="1.5"/><line x1="615.3" y1="520.0" x2="615.3" y2="517.0" stroke="#000" stroke-width="1.5"/><line x1="330.3" y1="25.1" x2="335.8" y2="25.1" stroke="#000" stroke-width="1.5"/><line x1="330.3" y1="18.7" x2="333.8" y2="18.7" stroke="#000" stroke-width="1.2"/><line x1="330.3" y1="14.9" x2="333.8" y2="14.9" stroke="#000" stroke-width="1.2"/><line x1="330.3" y1="12.3" x2="333.8" y2="12.3" stroke="#000" stroke-width="1.2"/><line x1="330.3" y1="10.2" x2="333.8" y2="10.2" stroke="#000" stroke-width="1.2"/><line x1="330.3" y1="8.5" x2="333.8" y2="8.5" stroke="#000" stroke-width="1.2"/><line x1="330.3" y1="7.1" x2="333.8" y2="7.1" stroke="#000" stroke-width="1.2"/><line x1="330.3" y1="5.9" x2="333.8" y2="5.9" stroke="#000" stroke-width="1.2"/><line x1="330.3" y1="46.4" x2="335.8" y2="46.4" stroke="#000" stroke-width="1.5"/><line x1="330.3" y1="40.0" x2="333.8" y2="40.0" stroke="#000" stroke-width="1.2"/><line x1="330.3" y1="36.2" x2="333.8" y2="36.2" stroke="#000" stroke-width="1.2"/><line x1="330.3" y1="33.6" x2="333.8" y2="33.6" stroke="#000" stroke-width="1.2"/><line x1="330.3" y1="31.5" x2="333.8" y2="31.5" stroke="#000" stroke-width="1.2"/><line x1="330.3" y1="29.8" x2="333.8" y2="29.8" stroke="#000" stroke-width="1.2"/><line x1="330.3" y1="28.4" x2="333.8" y2="28.4" stroke="#000" stroke-width="1.2"/><line x1="330.3" y1="27.2" x2="333.8" y2="27.2" stroke="#000" stroke-width="1.2"/><line x1="330.3" y1="26.1" x2="333.8" y2="26.1" stroke="#000" stroke-width="1.2"/><line x1="330.3" y1="67.7" x2="335.8" y2="67.7" stroke="#000" stroke-width="1.5"/><line x1="330.3" y1="61.3" x2="333.8" y2="61.3" stroke="#000" stroke-width="1.2"/><line x1="330.3" y1="57.5" x2="333.8" y2="57.5" stroke="#000" stroke-width="1.2"/><line x1="330.3" y1="54.9" x2="333.8" y2="54.9" stroke="#000" stroke-width="1.2"/><line x1="330.3" y1="52.8" x2="333.8" y2="52.8" stroke="#000" stroke-width="1.2"/><line x1="330.3" y1="51.1" x2="333.8" y2="51.1" stroke="#000" stroke-width="1.2"/><line x1="330.3" y1="49.7" x2="333.8" y2="49.7" stroke="#000" stroke-width="1.2"/><line x1="330.3" y1="48.5" x2="333.8" y2="48.5" stroke="#000" stroke-width="1.2"/><line x1="330.3" y1="47.4" x2="333.8" y2="47.4" stroke="#000" stroke-width="1.2"/><line x1="330.3" y1="89.0" x2="335.8" y2="89.0" stroke="#000" stroke-width="1.5"/><line x1="330.3" y1="82.6" x2="333.8" y2="82.6" stroke="#000" stroke-width="1.2"/><line x1="330.3" y1="78.8" x2="333.8" y2="78.8" stroke="#000" stroke-width="1.2"/><line x1="330.3" y1="76.2" x2="333.8" y2="76.2" stroke="#000" stroke-width="1.2"/><line x1="330.3" y1="74.1" x2="333.8" y2="74.1" stroke="#000" stroke-width="1.2"/><line x1="330.3" y1="72.4" x2="333.8" y2="72.4" stroke="#000" stroke-width="1.2"/><line x1="330.3" y1="71.0" x2="333.8" y2="71.0" stroke="#000" stroke-width="1.2"/><line x1="330.3" y1="69.8" x2="333.8" y2="69.8" stroke="#000" stroke-width="1.2"/><line x1="330.3" y1="68.7" x2="333.8" y2="68.7" stroke="#000" stroke-width="1.2"/><line x1="330.3" y1="110.3" x2="335.8" y2="110.3" stroke="#000" stroke-width="1.5"/><line x1="330.3" y1="103.9" x2="333.8" y2="103.9" stroke="#000" stroke-width="1.2"/><line x1="330.3" y1="100.1" x2="333.8" y2="100.1" stroke="#000" stroke-width="1.2"/><line x1="330.3" y1="97.5" x2="333.8" y2="97.5" stroke="#000" stroke-width="1.2"/><line x1="330.3" y1="95.4" x2="333.8" y2="95.4" stroke="#000" stroke-width="1.2"/><line x1="330.3" y1="93.7" x2="333.8" y2="93.7" stroke="#000" stroke-width="1.2"/><line x1="330.3" y1="92.3" x2="333.8" y2="92.3" stroke="#000" stroke-width="1.2"/><line x1="330.3" y1="91.1" x2="333.8" y2="91.1" stroke="#000" stroke-width="1.2"/><line x1="330.3" y1="90.0" x2="333.8" y2="90.0" stroke="#000" stroke-width="1.2"/><line x1="330.3" y1="131.6" x2="335.8" y2="131.6" stroke="#000" stroke-width="1.5"/><line x1="330.3" y1="125.2" x2="333.8" y2="125.2" stroke="#000" stroke-width="1.2"/><line x1="330.3" y1="121.4" x2="333.8" y2="121.4" stroke="#000" stroke-width="1.2"/><line x1="330.3" y1="118.8" x2="333.8" y2="118.8" stroke="#000" stroke-width="1.2"/><line x1="330.3" y1="116.7" x2="333.8" y2="116.7" stroke="#000" stroke-width="1.2"/><line x1="330.3" y1="115.0" x2="333.8" y2="115.0" stroke="#000" stroke-width="1.2"/><line x1="330.3" y1="113.6" x2="333.8" y2="113.6" stroke="#000" stroke-width="1.2"/><line x1="330.3" y1="112.4" x2="333.8" y2="112.4" stroke="#000" stroke-width="1.2"/><line x1="330.3" y1="111.3" x2="333.8" y2="111.3" stroke="#000" stroke-width="1.2"/><line x1="330.3" y1="152.9" x2="335.8" y2="152.9" stroke="#000" stroke-width="1.5"/><line x1="330.3" y1="146.5" x2="333.8" y2="146.5" stroke="#000" stroke-width="1.2"/><line x1="330.3" y1="142.7" x2="333.8" y2="142.7" stroke="#000" stroke-width="1.2"/><line x1="330.3" y1="140.1" x2="333.8" y2="140.1" stroke="#000" stroke-width="1.2"/><line x1="330.3" y1="138.0" x2="333.8" y2="138.0" stroke="#000" stroke-width="1.2"/><line x1="330.3" y1="136.3" x2="333.8" y2="136.3" stroke="#000" stroke-width="1.2"/><line x1="330.3" y1="134.9" x2="333.8" y2="134.9" stroke="#000" stroke-width="1.2"/><line x1="330.3" y1="133.7" x2="333.8" y2="133.7" stroke="#000" stroke-width="1.2"/><line x1="330.3" y1="132.6" x2="333.8" y2="132.6" stroke="#000" stroke-width="1.2"/><line x1="330.3" y1="167.8" x2="333.8" y2="167.8" stroke="#000" stroke-width="1.2"/><line x1="330.3" y1="164.0" x2="333.8" y2="164.0" stroke="#000" stroke-width="1.2"/><line x1="330.3" y1="161.4" x2="333.8" y2="161.4" stroke="#000" stroke-width="1.2"/><line x1="330.3" y1="159.3" x2="333.8" y2="159.3" stroke="#000" stroke-width="1.2"/><line x1="330.3" y1="157.6" x2="333.8" y2="157.6" stroke="#000" stroke-width="1.2"/><line x1="330.3" y1="156.2" x2="333.8" y2="156.2" stroke="#000" stroke-width="1.2"/><line x1="330.3" y1="155.0" x2="333.8" y2="155.0" stroke="#000" stroke-width="1.2"/><line x1="330.3" y1="153.9" x2="333.8" y2="153.9" stroke="#000" stroke-width="1.2"/><line x1="330.3" y1="194.1" x2="335.8" y2="194.1" stroke="#000" stroke-width="1.5"/><line x1="330.3" y1="187.9" x2="333.8" y2="187.9" stroke="#000" stroke-width="1.2"/><line x1="330.3" y1="184.3" x2="333.8" y2="184.3" stroke="#000" stroke-width="1.2"/><line x1="330.3" y1="181.8" x2="333.8" y2="181.8" stroke="#000" stroke-width="1.2"/><line x1="330.3" y1="179.8" x2="333.8" y2="179.8" stroke="#000" stroke-width="1.2"/><line x1="330.3" y1="178.1" x2="333.8" y2="178.1" stroke="#000" stroke-width="1.2"/><line x1="330.3" y1="176.8" x2="333.8" y2="176.8" stroke="#000" stroke-width="1.2"/><line x1="330.3" y1="175.6" x2="333.8" y2="175.6" stroke="#000" stroke-width="1.2"/><line x1="330.3" y1="174.5" x2="333.8" y2="174.5" stroke="#000" stroke-width="1.2"/><line x1="330.3" y1="214.6" x2="335.8" y2="214.6" stroke="#000" stroke-width="1.5"/><line x1="330.3" y1="208.4" x2="333.8" y2="208.4" stroke="#000" stroke-width="1.2"/><line x1="330.3" y1="204.8" x2="333.8" y2="204.8" stroke="#000" stroke-width="1.2"/><line x1="330.3" y1="202.3" x2="333.8" y2="202.3" stroke="#000" stroke-width="1.2"/><line x1="330.3" y1="200.3" x2="333.8" y2="200.3" stroke="#000" stroke-width="1.2"/><line x1="330.3" y1="198.6" x2="333.8" y2="198.6" stroke="#000" stroke-width="1.2"/><line x1="330.3" y1="197.3" x2="333.8" y2="197.3" stroke="#000" stroke-width="1.2"/><line x1="330.3" y1="196.1" x2="333.8" y2="196.1" stroke="#000" stroke-width="1.2"/><line x1="330.3" y1="195.0" x2="333.8" y2="195.0" stroke="#000" stroke-width="1.2"/><line x1="330.3" y1="235.1" x2="335.8" y2="235.1" stroke="#000" stroke-width="1.5"/><line x1="330.3" y1="228.9" x2="333.8" y2="228.9" stroke="#000" stroke-width="1.2"/><line x1="330.3" y1="225.3" x2="333.8" y2="225.3" stroke="#000" stroke-width="1.2"/><line x1="330.3" y1="222.8" x2="333.8" y2="222.8" stroke="#000" stroke-width="1.2"/><line x1="330.3" y1="220.8" x2="333.8" y2="220.8" stroke="#000" stroke-width="1.2"/><line x1="330.3" y1="219.1" x2="333.8" y2="219.1" stroke="#000" stroke-width="1.2"/><line x1="330.3" y1="217.8" x2="333.8" y2="217.8" stroke="#000" stroke-width="1.2"/><line x1="330.3" y1="216.6" x2="333.8" y2="216.6" stroke="#000" stroke-width="1.2"/><line x1="330.3" y1="215.5" x2="333.8" y2="215.5" stroke="#000" stroke-width="1.2"/><line x1="330.3" y1="255.6" x2="335.8" y2="255.6" stroke="#000" stroke-width="1.5"/><line x1="330.3" y1="249.4" x2="333.8" y2="249.4" stroke="#000" stroke-width="1.2"/><line x1="330.3" y1="245.8" x2="333.8" y2="245.8" stroke="#000" stroke-width="1.2"/><line x1="330.3" y1="243.3" x2="333.8" y2="243.3" stroke="#000" stroke-width="1.2"/><line x1="330.3" y1="241.3" x2="333.8" y2="241.3" stroke="#000" stroke-width="1.2"/><line x1="330.3" y1="239.6" x2="333.8" y2="239.6" stroke="#000" stroke-width="1.2"/><line x1="330.3" y1="238.3" x2="333.8" y2="238.3" stroke="#000" stroke-width="1.2"/><line x1="330.3" y1="237.1" x2="333.8" y2="237.1" stroke="#000" stroke-width="1.2"/><line x1="330.3" y1="236.0" x2="333.8" y2="236.0" stroke="#000" stroke-width="1.2"/><line x1="330.3" y1="276.1" x2="335.8" y2="276.1" stroke="#000" stroke-width="1.5"/><line x1="330.3" y1="269.9" x2="333.8" y2="269.9" stroke="#000" stroke-width="1.2"/><line x1="330.3" y1="266.3" x2="333.8" y2="266.3" stroke="#000" stroke-width="1.2"/><line x1="330.3" y1="263.8" x2="333.8" y2="263.8" stroke="#000" stroke-width="1.2"/><line x1="330.3" y1="261.8" x2="333.8" y2="261.8" stroke="#000" stroke-width="1.2"/><line x1="330.3" y1="260.1" x2="333.8" y2="260.1" stroke="#000" stroke-width="1.2"/><line x1="330.3" y1="258.8" x2="333.8" y2="258.8" stroke="#000" stroke-width="1.2"/><line x1="330.3" y1="257.6" x2="333.8" y2="257.6" stroke="#000" stroke-width="1.2"/><line x1="330.3" y1="256.5" x2="333.8" y2="256.5" stroke="#000" stroke-width="1.2"/><line x1="330.3" y1="296.6" x2="335.8" y2="296.6" stroke="#000" stroke-width="1.5"/><line x1="330.3" y1="290.4" x2="333.8" y2="290.4" stroke="#000" stroke-width="1.2"/><line x1="330.3" y1="286.8" x2="333.8" y2="286.8" stroke="#000" stroke-width="1.2"/><line x1="330.3" y1="284.3" x2="333.8" y2="284.3" stroke="#000" stroke-width="1.2"/><line x1="330.3" y1="282.3" x2="333.8" y2="282.3" stroke="#000" stroke-width="1.2"/><line x1="330.3" y1="280.6" x2="333.8" y2="280.6" stroke="#000" stroke-width="1.2"/><line x1="330.3" y1="279.3" x2="333.8" y2="279.3" stroke="#000" stroke-width="1.2"/><line x1="330.3" y1="278.1" x2="333.8" y2="278.1" stroke="#000" stroke-width="1.2"/><line x1="330.3" y1="277.0" x2="333.8" y2="277.0" stroke="#000" stroke-width="1.2"/><line x1="330.3" y1="317.1" x2="335.8" y2="317.1" stroke="#000" stroke-width="1.5"/><line x1="330.3" y1="310.9" x2="333.8" y2="310.9" stroke="#000" stroke-width="1.2"/><line x1="330.3" y1="307.3" x2="333.8" y2="307.3" stroke="#000" stroke-width="1.2"/><line x1="330.3" y1="304.8" x2="333.8" y2="304.8" stroke="#000" stroke-width="1.2"/><line x1="330.3" y1="302.8" x2="333.8" y2="302.8" stroke="#000" stroke-width="1.2"/><line x1="330.3" y1="301.1" x2="333.8" y2="301.1" stroke="#000" stroke-width="1.2"/><line x1="330.3" y1="299.8" x2="333.8" y2="299.8" stroke="#000" stroke-width="1.2"/><line x1="330.3" y1="298.6" x2="333.8" y2="298.6" stroke="#000" stroke-width="1.2"/><line x1="330.3" y1="297.5" x2="333.8" y2="297.5" stroke="#000" stroke-width="1.2"/><line x1="330.3" y1="331.4" x2="333.8" y2="331.4" stroke="#000" stroke-width="1.2"/><line x1="330.3" y1="327.8" x2="333.8" y2="327.8" stroke="#000" stroke-width="1.2"/><line x1="330.3" y1="325.3" x2="333.8" y2="325.3" stroke="#000" stroke-width="1.2"/><line x1="330.3" y1="323.3" x2="333.8" y2="323.3" stroke="#000" stroke-width="1.2"/><line x1="330.3" y1="321.6" x2="333.8" y2="321.6" stroke="#000" stroke-width="1.2"/><line x1="330.3" y1="320.3" x2="333.8" y2="320.3" stroke="#000" stroke-width="1.2"/><line x1="330.3" y1="319.1" x2="333.8" y2="319.1" stroke="#000" stroke-width="1.2"/><line x1="330.3" y1="318.0" x2="333.8" y2="318.0" stroke="#000" stroke-width="1.2"/><line x1="330.3" y1="341.4" x2="335.8" y2="341.4" stroke="#000" stroke-width="1.5"/><line x1="330.3" y1="367.0" x2="335.8" y2="367.0" stroke="#000" stroke-width="1.5"/><line x1="330.3" y1="359.3" x2="333.8" y2="359.3" stroke="#000" stroke-width="1.2"/><line x1="330.3" y1="354.8" x2="333.8" y2="354.8" stroke="#000" stroke-width="1.2"/><line x1="330.3" y1="351.6" x2="333.8" y2="351.6" stroke="#000" stroke-width="1.2"/><line x1="330.3" y1="349.1" x2="333.8" y2="349.1" stroke="#000" stroke-width="1.2"/><line x1="330.3" y1="347.1" x2="333.8" y2="347.1" stroke="#000" stroke-width="1.2"/><line x1="330.3" y1="345.4" x2="333.8" y2="345.4" stroke="#000" stroke-width="1.2"/><line x1="330.3" y1="343.9" x2="333.8" y2="343.9" stroke="#000" stroke-width="1.2"/><line x1="330.3" y1="342.6" x2="333.8" y2="342.6" stroke="#000" stroke-width="1.2"/><line x1="330.3" y1="392.6" x2="335.8" y2="392.6" stroke="#000" stroke-width="1.5"/><line x1="330.3" y1="384.9" x2="333.8" y2="384.9" stroke="#000" stroke-width="1.2"/><line x1="330.3" y1="380.4" x2="333.8" y2="380.4" stroke="#000" stroke-width="1.2"/><line x1="330.3" y1="377.2" x2="333.8" y2="377.2" stroke="#000" stroke-width="1.2"/><line x1="330.3" y1="374.7" x2="333.8" y2="374.7" stroke="#000" stroke-width="1.2"/><line x1="330.3" y1="372.7" x2="333.8" y2="372.7" stroke="#000" stroke-width="1.2"/><line x1="330.3" y1="371.0" x2="333.8" y2="371.0" stroke="#000" stroke-width="1.2"/><line x1="330.3" y1="369.5" x2="333.8" y2="369.5" stroke="#000" stroke-width="1.2"/><line x1="330.3" y1="368.2" x2="333.8" y2="368.2" stroke="#000" stroke-width="1.2"/><line x1="330.3" y1="418.2" x2="335.8" y2="418.2" stroke="#000" stroke-width="1.5"/><line x1="330.3" y1="410.5" x2="333.8" y2="410.5" stroke="#000" stroke-width="1.2"/><line x1="330.3" y1="406.0" x2="333.8" y2="406.0" stroke="#000" stroke-width="1.2"/><line x1="330.3" y1="402.8" x2="333.8" y2="402.8" stroke="#000" stroke-width="1.2"/><line x1="330.3" y1="400.3" x2="333.8" y2="400.3" stroke="#000" stroke-width="1.2"/><line x1="330.3" y1="398.3" x2="333.8" y2="398.3" stroke="#000" stroke-width="1.2"/><line x1="330.3" y1="396.6" x2="333.8" y2="396.6" stroke="#000" stroke-width="1.2"/><line x1="330.3" y1="395.1" x2="333.8" y2="395.1" stroke="#000" stroke-width="1.2"/><line x1="330.3" y1="393.8" x2="333.8" y2="393.8" stroke="#000" stroke-width="1.2"/><line x1="330.3" y1="443.8" x2="335.8" y2="443.8" stroke="#000" stroke-width="1.5"/><line x1="330.3" y1="436.1" x2="333.8" y2="436.1" stroke="#000" stroke-width="1.2"/><line x1="330.3" y1="431.6" x2="333.8" y2="431.6" stroke="#000" stroke-width="1.2"/><line x1="330.3" y1="428.4" x2="333.8" y2="428.4" stroke="#000" stroke-width="1.2"/><line x1="330.3" y1="425.9" x2="333.8" y2="425.9" stroke="#000" stroke-width="1.2"/><line x1="330.3" y1="423.9" x2="333.8" y2="423.9" stroke="#000" stroke-width="1.2"/><line x1="330.3" y1="422.2" x2="333.8" y2="422.2" stroke="#000" stroke-width="1.2"/><line x1="330.3" y1="420.7" x2="333.8" y2="420.7" stroke="#000" stroke-width="1.2"/><line x1="330.3" y1="419.4" x2="333.8" y2="419.4" stroke="#000" stroke-width="1.2"/><line x1="330.3" y1="469.4" x2="335.8" y2="469.4" stroke="#000" stroke-width="1.5"/><line x1="330.3" y1="461.7" x2="333.8" y2="461.7" stroke="#000" stroke-width="1.2"/><line x1="330.3" y1="457.2" x2="333.8" y2="457.2" stroke="#000" stroke-width="1.2"/><line x1="330.3" y1="454.0" x2="333.8" y2="454.0" stroke="#000" stroke-width="1.2"/><line x1="330.3" y1="451.5" x2="333.8" y2="451.5" stroke="#000" stroke-width="1.2"/><line x1="330.3" y1="449.5" x2="333.8" y2="449.5" stroke="#000" stroke-width="1.2"/><line x1="330.3" y1="447.8" x2="333.8" y2="447.8" stroke="#000" stroke-width="1.2"/><line x1="330.3" y1="446.3" x2="333.8" y2="446.3" stroke="#000" stroke-width="1.2"/><line x1="330.3" y1="445.0" x2="333.8" y2="445.0" stroke="#000" stroke-width="1.2"/><line x1="330.3" y1="495.0" x2="335.8" y2="495.0" stroke="#000" stroke-width="1.5"/><line x1="330.3" y1="487.3" x2="333.8" y2="487.3" stroke="#000" stroke-width="1.2"/><line x1="330.3" y1="482.8" x2="333.8" y2="482.8" stroke="#000" stroke-width="1.2"/><line x1="330.3" y1="479.6" x2="333.8" y2="479.6" stroke="#000" stroke-width="1.2"/><line x1="330.3" y1="477.1" x2="333.8" y2="477.1" stroke="#000" stroke-width="1.2"/><line x1="330.3" y1="475.1" x2="333.8" y2="475.1" stroke="#000" stroke-width="1.2"/><line x1="330.3" y1="473.4" x2="333.8" y2="473.4" stroke="#000" stroke-width="1.2"/><line x1="330.3" y1="471.9" x2="333.8" y2="471.9" stroke="#000" stroke-width="1.2"/><line x1="330.3" y1="470.6" x2="333.8" y2="470.6" stroke="#000" stroke-width="1.2"/><line x1="330.3" y1="512.9" x2="333.8" y2="512.9" stroke="#000" stroke-width="1.2"/><line x1="330.3" y1="508.4" x2="333.8" y2="508.4" stroke="#000" stroke-width="1.2"/><line x1="330.3" y1="505.2" x2="333.8" y2="505.2" stroke="#000" stroke-width="1.2"/><line x1="330.3" y1="502.7" x2="333.8" y2="502.7" stroke="#000" stroke-width="1.2"/><line x1="330.3" y1="500.7" x2="333.8" y2="500.7" stroke="#000" stroke-width="1.2"/><line x1="330.3" y1="499.0" x2="333.8" y2="499.0" stroke="#000" stroke-width="1.2"/><line x1="330.3" y1="497.5" x2="333.8" y2="497.5" stroke="#000" stroke-width="1.2"/><line x1="330.3" y1="496.2" x2="333.8" y2="496.2" stroke="#000" stroke-width="1.2"/><text x="352.8" y="536.2" font-family="Liberation Sans, sans-serif" font-size="12.5" font-weight="bold" fill="#111" text-anchor="middle">1</text><text x="400.5" y="536.2" font-family="Liberation Sans, sans-serif" font-size="12.5" font-weight="bold" fill="#111" text-anchor="middle">2</text><text x="448.3" y="536.2" font-family="Liberation Sans, sans-serif" font-size="12.5" font-weight="bold" fill="#111" text-anchor="middle">3</text><text x="496.0" y="536.2" font-family="Liberation Sans, sans-serif" font-size="12.5" font-weight="bold" fill="#111" text-anchor="middle">4</text><text x="543.7" y="536.2" font-family="Liberation Sans, sans-serif" font-size="12.5" font-weight="bold" fill="#111" text-anchor="middle">5</text><text x="591.5" y="536.2" font-family="Liberation Sans, sans-serif" font-size="12.5" font-weight="bold" fill="#111" text-anchor="middle">6</text><text x="639.2" y="536.2" font-family="Liberation Sans, sans-serif" font-size="12.5" font-weight="bold" fill="#111" text-anchor="middle">7</text><text x="377.33" y="557.40" font-family="Liberation Sans, sans-serif" font-size="16" font-weight="bold" fill="#111" textLength="135.79" lengthAdjust="spacingAndGlyphs" >Scattering angle/2</text><text x="514.87" y="557.40" font-family="Liberation Serif, serif" font-size="15" font-weight="normal" fill="#111" textLength="7.74" lengthAdjust="spacingAndGlyphs" >θ</text><text x="527.81" y="557.40" font-family="Liberation Sans, sans-serif" font-size="16" font-weight="bold" fill="#111" textLength="62.59" lengthAdjust="spacingAndGlyphs" >(degree)</text><text transform="translate(667.70,401.50) rotate(-90)" x="0" y="0" font-family="Liberation Sans, sans-serif" font-size="20" font-weight="bold" fill="#111" textLength="107.60" lengthAdjust="spacingAndGlyphs" >Normalized</text><text transform="translate(667.70,287.59) rotate(-90)" x="0" y="0" font-family="Liberation Sans, sans-serif" font-size="20" font-weight="bold" fill="#111" textLength="81.32" lengthAdjust="spacingAndGlyphs" >Intensity</text><text transform="translate(667.70,194.20) rotate(-90)" x="0" y="0" font-family="Liberation Sans, sans-serif" font-size="20" font-weight="bold" fill="#111" textLength="42.32" lengthAdjust="spacingAndGlyphs" >(a.u)</text><text x="353.13" y="31.00" font-family="Liberation Sans, sans-serif" font-size="22" font-weight="bold" fill="#111" textLength="28.57" lengthAdjust="spacingAndGlyphs" >(c)</text><line x1="482" y1="14.4" x2="511.5" y2="14.4" stroke="#111" stroke-width="2"/><text x="512.94" y="18.30" font-family="Liberation Sans, sans-serif" font-size="12" font-weight="bold" fill="#111" textLength="118.59" lengthAdjust="spacingAndGlyphs" >LSMO (42.5 nm) /STO</text><line x1="482" y1="29.5" x2="511" y2="29.5" stroke="#e0141c" stroke-width="2"/><text x="516.45" y="32.50" font-family="Liberation Sans, sans-serif" font-size="12" font-weight="bold" fill="#111" textLength="85.64" lengthAdjust="spacingAndGlyphs" >Simulation data</text><line x1="472.4" y1="193.5" x2="503.4" y2="193.5" stroke="#111" stroke-width="2"/><text x="505.19" y="197.20" font-family="Liberation Sans, sans-serif" font-size="11.5" font-weight="bold" fill="#111" textLength="127.63" lengthAdjust="spacingAndGlyphs" >ESMO (22.2 nm) /STO</text><line x1="384" y1="357" x2="413.3" y2="357" stroke="#111" stroke-width="3"/><text x="415.99" y="361.20" font-family="Liberation Sans, sans-serif" font-size="11.5" font-weight="bold" fill="#111" textLength="217.77" lengthAdjust="spacingAndGlyphs" >LSMO (16.2 nm) /ESMO (34 nm) /STO</text>
</svg></body></html>
